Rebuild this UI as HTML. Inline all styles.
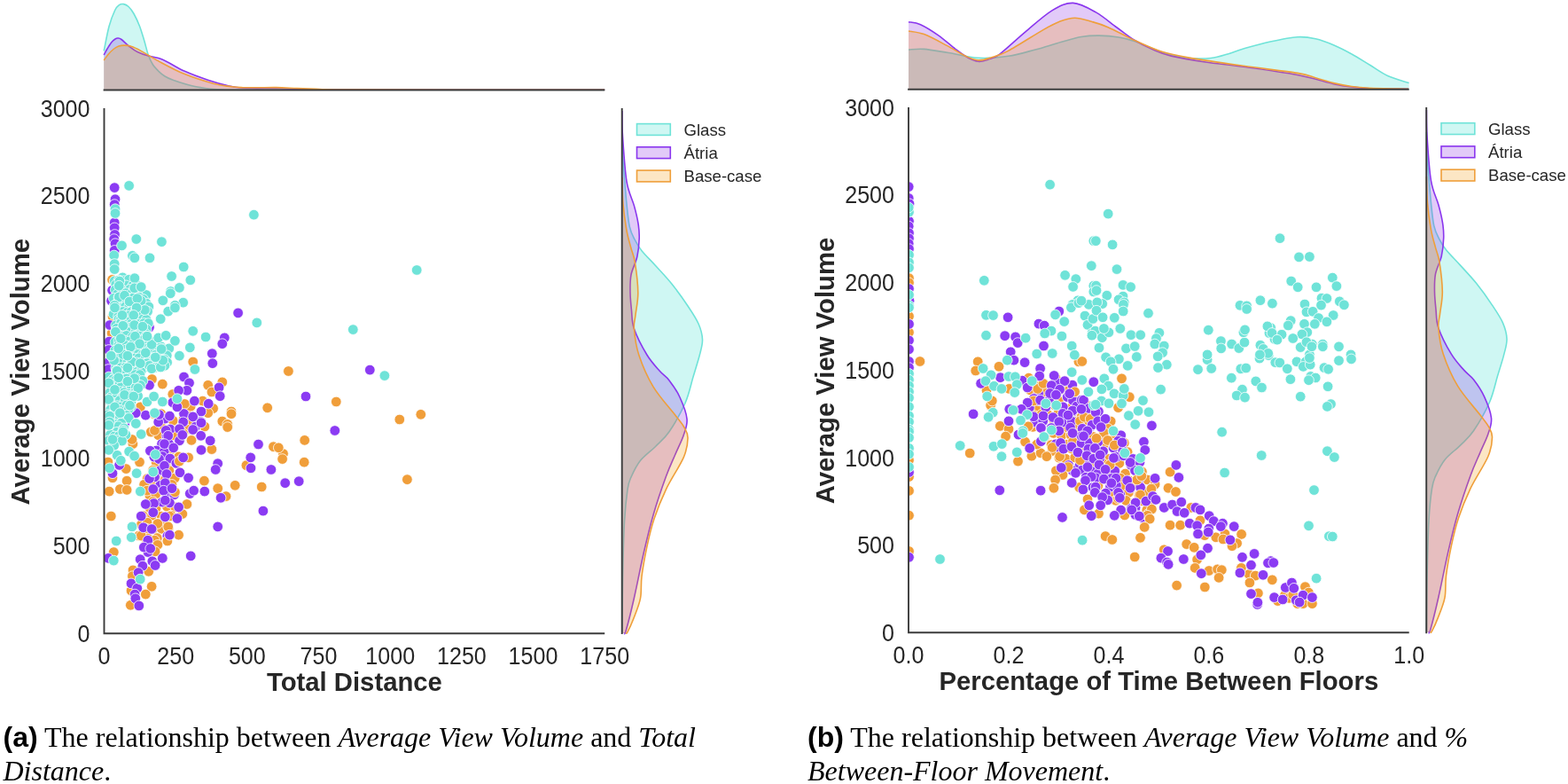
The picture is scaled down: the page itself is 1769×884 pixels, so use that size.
<!DOCTYPE html>
<html><head><meta charset="utf-8"><title>Figure</title>
<style>
html,body{margin:0;padding:0;background:#fff;}
body{width:1769px;height:884px;position:relative;overflow:hidden;}
svg{position:absolute;left:0;top:0;display:block;}
.cap{position:absolute;width:860px;font-family:"Liberation Serif","Times New Roman",serif;font-size:32.0px;line-height:38.0px;color:#000;}
.cap i{font-style:italic;}
.bs{font-family:"Liberation Sans",Arial,sans-serif;font-weight:bold;font-size:32.0px;}
</style></head>
<body>
<svg width="1769" height="884" viewBox="0 0 1769 884">
<defs>
<clipPath id="cl"><rect x="117.5" y="112.0" width="574.7" height="602.2"/></clipPath>
<clipPath id="cr"><rect x="1025.0" y="112.0" width="574.7" height="602.2"/></clipPath>
</defs>
<style>
.tk{font-family:"Liberation Sans",Arial,sans-serif;font-size:25.1px;fill:#262626;}
.lb{font-family:"Liberation Sans",Arial,sans-serif;font-size:29.3px;font-weight:bold;fill:#262626;}
.lg{font-family:"Liberation Sans",Arial,sans-serif;font-size:18.6px;fill:#262626;}
</style>
<rect width="1769" height="884" fill="#fff"/>
<path d="M117.2,57.4 C118.2,52.8 121.0,37.1 123.1,29.5 C125.2,21.9 127.8,15.5 129.7,11.5 C131.6,7.5 132.9,6.8 134.5,5.6 C136.1,4.4 137.8,4.3 139.5,4.6 C141.2,4.9 143.1,5.7 145.0,7.5 C146.9,9.3 148.9,11.8 151.0,15.5 C153.1,19.2 155.6,24.6 157.5,29.5 C159.4,34.4 160.8,39.5 162.5,45.0 C164.2,50.5 165.7,57.6 167.4,62.3 C169.1,67.0 170.6,70.0 172.5,73.0 C174.4,76.0 176.7,78.1 178.9,80.3 C181.2,82.5 183.3,84.3 186.0,86.0 C188.7,87.7 190.1,88.4 195.2,90.2 C200.3,92.0 209.5,95.0 216.6,96.7 C223.7,98.4 231.5,99.5 237.9,100.3 C244.3,101.0 244.7,101.0 255.0,101.2 C265.4,101.4 228.8,101.3 300.0,101.3 C371.2,101.3 618.5,101.3 682.2,101.3 L682.2,101.5 L117.2,101.5 Z" fill="#40e0d0" fill-opacity="0.25" stroke="none"/><path d="M117.2,57.4 C118.2,52.8 121.0,37.1 123.1,29.5 C125.2,21.9 127.8,15.5 129.7,11.5 C131.6,7.5 132.9,6.8 134.5,5.6 C136.1,4.4 137.8,4.3 139.5,4.6 C141.2,4.9 143.1,5.7 145.0,7.5 C146.9,9.3 148.9,11.8 151.0,15.5 C153.1,19.2 155.6,24.6 157.5,29.5 C159.4,34.4 160.8,39.5 162.5,45.0 C164.2,50.5 165.7,57.6 167.4,62.3 C169.1,67.0 170.6,70.0 172.5,73.0 C174.4,76.0 176.7,78.1 178.9,80.3 C181.2,82.5 183.3,84.3 186.0,86.0 C188.7,87.7 190.1,88.4 195.2,90.2 C200.3,92.0 209.5,95.0 216.6,96.7 C223.7,98.4 231.5,99.5 237.9,100.3 C244.3,101.0 244.7,101.0 255.0,101.2 C265.4,101.4 228.8,101.3 300.0,101.3 C371.2,101.3 618.5,101.3 682.2,101.3" fill="none" stroke="#6fe3d8" stroke-width="1.6"/>
<path d="M117.2,62.0 C117.8,60.8 119.5,57.4 121.0,55.0 C122.5,52.6 124.5,49.3 126.0,47.5 C127.5,45.7 128.8,44.8 130.0,44.0 C131.2,43.2 131.8,42.9 133.0,43.0 C134.2,43.1 134.8,42.9 137.0,44.5 C139.2,46.1 143.0,50.2 146.0,52.5 C149.0,54.8 151.4,56.7 155.0,58.5 C158.6,60.3 163.4,61.9 167.4,63.1 C171.4,64.3 175.1,64.4 178.9,65.6 C182.7,66.8 185.1,68.0 190.0,70.5 C194.9,73.0 201.0,77.0 208.4,80.3 C215.8,83.6 226.4,87.5 234.6,90.2 C242.8,92.9 250.9,95.2 257.5,96.7 C264.1,98.2 268.6,98.7 274.0,99.2 C279.4,99.7 283.2,99.5 290.0,99.6 C296.8,99.6 306.7,99.4 315.0,99.5 C323.3,99.6 329.2,100.0 340.0,100.3 C350.8,100.6 323.0,100.9 380.0,101.1 C437.0,101.3 631.8,101.3 682.2,101.3 L682.2,101.5 L117.2,101.5 Z" fill="#8a2be2" fill-opacity="0.25" stroke="none"/><path d="M117.2,62.0 C117.8,60.8 119.5,57.4 121.0,55.0 C122.5,52.6 124.5,49.3 126.0,47.5 C127.5,45.7 128.8,44.8 130.0,44.0 C131.2,43.2 131.8,42.9 133.0,43.0 C134.2,43.1 134.8,42.9 137.0,44.5 C139.2,46.1 143.0,50.2 146.0,52.5 C149.0,54.8 151.4,56.7 155.0,58.5 C158.6,60.3 163.4,61.9 167.4,63.1 C171.4,64.3 175.1,64.4 178.9,65.6 C182.7,66.8 185.1,68.0 190.0,70.5 C194.9,73.0 201.0,77.0 208.4,80.3 C215.8,83.6 226.4,87.5 234.6,90.2 C242.8,92.9 250.9,95.2 257.5,96.7 C264.1,98.2 268.6,98.7 274.0,99.2 C279.4,99.7 283.2,99.5 290.0,99.6 C296.8,99.6 306.7,99.4 315.0,99.5 C323.3,99.6 329.2,100.0 340.0,100.3 C350.8,100.6 323.0,100.9 380.0,101.1 C437.0,101.3 631.8,101.3 682.2,101.3" fill="none" stroke="#8a36ee" stroke-width="1.6"/>
<path d="M117.2,68.0 C118.0,66.9 120.2,63.6 122.0,61.5 C123.8,59.4 126.0,57.1 128.0,55.5 C130.0,53.9 131.9,52.7 134.0,52.0 C136.1,51.3 138.0,51.1 140.3,51.1 C142.6,51.1 144.9,51.2 148.0,52.3 C151.1,53.3 153.8,54.6 159.0,57.4 C164.2,60.2 170.7,64.5 178.9,68.9 C187.1,73.3 198.1,79.4 208.4,83.6 C218.8,87.8 232.1,91.9 241.0,94.3 C249.9,96.7 256.5,97.1 262.0,97.8 C267.5,98.5 269.3,98.5 274.0,98.7 C278.7,98.9 283.7,98.8 290.0,98.8 C296.3,98.8 304.1,98.5 311.6,98.6 C319.1,98.7 327.6,99.3 335.0,99.6 C342.4,99.9 345.2,100.0 356.0,100.3 C366.8,100.5 345.6,100.9 400.0,101.1 C454.4,101.3 635.2,101.3 682.2,101.3 L682.2,101.5 L117.2,101.5 Z" fill="#f39c12" fill-opacity="0.25" stroke="none"/><path d="M117.2,68.0 C118.0,66.9 120.2,63.6 122.0,61.5 C123.8,59.4 126.0,57.1 128.0,55.5 C130.0,53.9 131.9,52.7 134.0,52.0 C136.1,51.3 138.0,51.1 140.3,51.1 C142.6,51.1 144.9,51.2 148.0,52.3 C151.1,53.3 153.8,54.6 159.0,57.4 C164.2,60.2 170.7,64.5 178.9,68.9 C187.1,73.3 198.1,79.4 208.4,83.6 C218.8,87.8 232.1,91.9 241.0,94.3 C249.9,96.7 256.5,97.1 262.0,97.8 C267.5,98.5 269.3,98.5 274.0,98.7 C278.7,98.9 283.7,98.8 290.0,98.8 C296.3,98.8 304.1,98.5 311.6,98.6 C319.1,98.7 327.6,99.3 335.0,99.6 C342.4,99.9 345.2,100.0 356.0,100.3 C366.8,100.5 345.6,100.9 400.0,101.1 C454.4,101.3 635.2,101.3 682.2,101.3" fill="none" stroke="#ef9f3a" stroke-width="1.6"/>
<line x1="116.6" y1="101.5" x2="682.2" y2="101.5" stroke="#3b3b3b" stroke-width="1.9"/>
<path d="M701.9,150.0 C702.0,154.2 702.1,166.7 702.5,175.0 C702.9,183.3 703.8,190.8 704.5,200.0 C705.2,209.2 706.0,220.7 707.0,230.0 C708.0,239.3 708.8,248.9 710.3,255.6 C711.8,262.3 713.7,265.5 716.0,270.0 C718.3,274.5 720.0,277.7 724.0,282.7 C728.0,287.7 734.4,293.8 740.0,300.0 C745.6,306.2 751.8,312.5 757.8,320.0 C763.8,327.5 771.0,337.5 776.0,345.0 C781.0,352.5 785.2,358.7 788.0,365.0 C790.8,371.3 792.3,377.2 792.5,383.0 C792.7,388.8 791.1,393.0 789.4,400.0 C787.6,407.0 784.7,416.0 782.0,425.0 C779.3,434.0 777.6,443.9 773.1,454.2 C768.6,464.5 760.5,478.6 755.0,486.7 C749.5,494.8 745.4,497.6 740.0,503.0 C734.6,508.4 727.2,513.5 722.5,519.3 C717.8,525.1 714.4,532.6 712.0,538.0 C709.6,543.4 709.2,543.5 708.0,551.8 C706.8,560.1 705.4,571.6 704.5,588.0 C703.6,604.4 703.0,629.0 702.6,650.0 C702.2,671.0 702.1,703.3 702.0,714.0 L701.7,714.0 L701.7,150.0 Z" fill="#40e0d0" fill-opacity="0.25" stroke="none"/><path d="M701.9,150.0 C702.0,154.2 702.1,166.7 702.5,175.0 C702.9,183.3 703.8,190.8 704.5,200.0 C705.2,209.2 706.0,220.7 707.0,230.0 C708.0,239.3 708.8,248.9 710.3,255.6 C711.8,262.3 713.7,265.5 716.0,270.0 C718.3,274.5 720.0,277.7 724.0,282.7 C728.0,287.7 734.4,293.8 740.0,300.0 C745.6,306.2 751.8,312.5 757.8,320.0 C763.8,327.5 771.0,337.5 776.0,345.0 C781.0,352.5 785.2,358.7 788.0,365.0 C790.8,371.3 792.3,377.2 792.5,383.0 C792.7,388.8 791.1,393.0 789.4,400.0 C787.6,407.0 784.7,416.0 782.0,425.0 C779.3,434.0 777.6,443.9 773.1,454.2 C768.6,464.5 760.5,478.6 755.0,486.7 C749.5,494.8 745.4,497.6 740.0,503.0 C734.6,508.4 727.2,513.5 722.5,519.3 C717.8,525.1 714.4,532.6 712.0,538.0 C709.6,543.4 709.2,543.5 708.0,551.8 C706.8,560.1 705.4,571.6 704.5,588.0 C703.6,604.4 703.0,629.0 702.6,650.0 C702.2,671.0 702.1,703.3 702.0,714.0" fill="none" stroke="#6fe3d8" stroke-width="1.6"/>
<path d="M701.9,125.0 C702.0,129.8 701.6,140.6 702.5,153.9 C703.4,167.2 704.9,191.7 707.0,204.7 C709.1,217.7 713.2,224.0 715.4,231.9 C717.6,239.8 719.0,245.8 720.0,252.0 C721.0,258.2 721.4,262.8 721.2,269.0 C721.0,275.2 720.3,282.7 718.8,289.5 C717.3,296.3 713.3,303.1 712.0,309.8 C710.7,316.6 710.9,323.3 711.0,330.0 C711.1,336.7 711.8,343.2 712.5,350.0 C713.2,356.8 712.5,362.5 715.4,370.8 C718.3,379.1 725.0,392.1 729.8,400.0 C734.6,407.9 740.0,413.5 744.2,418.3 C748.4,423.1 751.2,423.9 755.0,428.9 C758.8,433.8 763.7,440.8 767.0,448.0 C770.3,455.2 774.3,465.2 775.0,472.3 C775.7,479.4 773.5,483.8 771.3,490.4 C769.1,497.0 765.3,504.2 762.0,512.0 C758.7,519.8 755.6,525.8 751.4,537.3 C747.2,548.8 741.2,566.2 737.0,580.7 C732.8,595.2 729.7,608.3 726.1,624.0 C722.5,639.7 718.6,660.2 715.3,674.7 C712.0,689.2 708.2,704.2 706.3,710.8 C704.4,717.3 704.4,713.5 704.0,714.0 L701.7,714.0 L701.7,125.0 Z" fill="#8a2be2" fill-opacity="0.25" stroke="none"/><path d="M701.9,125.0 C702.0,129.8 701.6,140.6 702.5,153.9 C703.4,167.2 704.9,191.7 707.0,204.7 C709.1,217.7 713.2,224.0 715.4,231.9 C717.6,239.8 719.0,245.8 720.0,252.0 C721.0,258.2 721.4,262.8 721.2,269.0 C721.0,275.2 720.3,282.7 718.8,289.5 C717.3,296.3 713.3,303.1 712.0,309.8 C710.7,316.6 710.9,323.3 711.0,330.0 C711.1,336.7 711.8,343.2 712.5,350.0 C713.2,356.8 712.5,362.5 715.4,370.8 C718.3,379.1 725.0,392.1 729.8,400.0 C734.6,407.9 740.0,413.5 744.2,418.3 C748.4,423.1 751.2,423.9 755.0,428.9 C758.8,433.8 763.7,440.8 767.0,448.0 C770.3,455.2 774.3,465.2 775.0,472.3 C775.7,479.4 773.5,483.8 771.3,490.4 C769.1,497.0 765.3,504.2 762.0,512.0 C758.7,519.8 755.6,525.8 751.4,537.3 C747.2,548.8 741.2,566.2 737.0,580.7 C732.8,595.2 729.7,608.3 726.1,624.0 C722.5,639.7 718.6,660.2 715.3,674.7 C712.0,689.2 708.2,704.2 706.3,710.8 C704.4,717.3 704.4,713.5 704.0,714.0" fill="none" stroke="#8a36ee" stroke-width="1.6"/>
<path d="M701.9,200.0 C702.1,205.0 702.1,220.0 703.0,230.0 C703.9,240.0 705.5,251.7 707.0,260.0 C708.5,268.3 710.4,274.0 712.0,280.0 C713.6,286.0 715.1,287.7 716.4,296.0 C717.7,304.3 719.7,320.2 719.8,330.0 C719.9,339.8 717.7,348.2 717.0,355.0 C716.3,361.8 714.8,363.3 715.4,370.8 C716.0,378.3 717.1,389.1 720.7,400.0 C724.3,410.9 730.1,424.7 737.0,436.1 C743.9,447.6 756.5,461.1 762.3,468.7 C768.1,476.3 769.7,477.8 772.0,482.0 C774.3,486.2 776.1,488.4 776.0,494.0 C775.9,499.6 775.4,506.0 771.3,515.6 C767.2,525.2 756.9,540.2 751.4,551.8 C745.9,563.4 741.6,574.2 738.0,585.0 C734.4,595.8 732.1,606.0 729.8,616.8 C727.5,627.6 725.2,640.4 724.0,650.0 C722.8,659.6 724.0,666.9 722.5,674.7 C721.0,682.5 717.4,690.7 715.0,697.0 C712.6,703.3 709.5,709.8 708.0,712.6 C706.5,715.4 706.3,713.8 706.0,714.0 L701.7,714.0 L701.7,200.0 Z" fill="#f39c12" fill-opacity="0.25" stroke="none"/><path d="M701.9,200.0 C702.1,205.0 702.1,220.0 703.0,230.0 C703.9,240.0 705.5,251.7 707.0,260.0 C708.5,268.3 710.4,274.0 712.0,280.0 C713.6,286.0 715.1,287.7 716.4,296.0 C717.7,304.3 719.7,320.2 719.8,330.0 C719.9,339.8 717.7,348.2 717.0,355.0 C716.3,361.8 714.8,363.3 715.4,370.8 C716.0,378.3 717.1,389.1 720.7,400.0 C724.3,410.9 730.1,424.7 737.0,436.1 C743.9,447.6 756.5,461.1 762.3,468.7 C768.1,476.3 769.7,477.8 772.0,482.0 C774.3,486.2 776.1,488.4 776.0,494.0 C775.9,499.6 775.4,506.0 771.3,515.6 C767.2,525.2 756.9,540.2 751.4,551.8 C745.9,563.4 741.6,574.2 738.0,585.0 C734.4,595.8 732.1,606.0 729.8,616.8 C727.5,627.6 725.2,640.4 724.0,650.0 C722.8,659.6 724.0,666.9 722.5,674.7 C721.0,682.5 717.4,690.7 715.0,697.0 C712.6,703.3 709.5,709.8 708.0,712.6 C706.5,715.4 706.3,713.8 706.0,714.0" fill="none" stroke="#ef9f3a" stroke-width="1.6"/>
<line x1="701.7" y1="122.0" x2="701.7" y2="715.1" stroke="#3b3b3b" stroke-width="1.9"/>
<g clip-path="url(#cl)" stroke="#fff" stroke-width="0.8">
<circle cx="174.5" cy="467.0" r="5.85" fill="#f09e3a"/>
<circle cx="181.7" cy="466.5" r="5.85" fill="#f09e3a"/>
<circle cx="212.0" cy="468.2" r="5.85" fill="#f09e3a"/>
<circle cx="179.5" cy="474.3" r="5.85" fill="#f09e3a"/>
<circle cx="195.2" cy="474.3" r="5.85" fill="#f09e3a"/>
<circle cx="207.0" cy="472.8" r="5.85" fill="#f09e3a"/>
<circle cx="217.1" cy="475.3" r="5.85" fill="#f09e3a"/>
<circle cx="182.6" cy="482.4" r="5.85" fill="#f09e3a"/>
<circle cx="203.2" cy="484.2" r="5.85" fill="#f09e3a"/>
<circle cx="211.3" cy="484.3" r="5.85" fill="#f09e3a"/>
<circle cx="230.9" cy="481.0" r="5.85" fill="#f09e3a"/>
<circle cx="178.7" cy="490.7" r="5.85" fill="#f09e3a"/>
<circle cx="195.5" cy="490.7" r="5.85" fill="#f09e3a"/>
<circle cx="206.8" cy="488.8" r="5.85" fill="#f09e3a"/>
<circle cx="194.7" cy="506.4" r="5.85" fill="#f09e3a"/>
<circle cx="201.9" cy="514.9" r="5.85" fill="#f09e3a"/>
<circle cx="176.3" cy="521.8" r="5.85" fill="#f09e3a"/>
<circle cx="187.3" cy="525.7" r="5.85" fill="#f09e3a"/>
<circle cx="172.6" cy="530.1" r="5.85" fill="#f09e3a"/>
<circle cx="190.8" cy="530.6" r="5.85" fill="#f09e3a"/>
<circle cx="166.3" cy="539.7" r="5.85" fill="#f09e3a"/>
<circle cx="176.3" cy="538.3" r="5.85" fill="#f09e3a"/>
<circle cx="186.7" cy="540.1" r="5.85" fill="#f09e3a"/>
<circle cx="197.2" cy="539.1" r="5.85" fill="#f09e3a"/>
<circle cx="172.9" cy="547.0" r="5.85" fill="#f09e3a"/>
<circle cx="193.9" cy="546.4" r="5.85" fill="#f09e3a"/>
<circle cx="168.9" cy="558.5" r="5.85" fill="#f09e3a"/>
<circle cx="175.7" cy="557.2" r="5.85" fill="#f09e3a"/>
<circle cx="172.7" cy="565.5" r="5.85" fill="#f09e3a"/>
<circle cx="169.0" cy="572.7" r="5.85" fill="#f09e3a"/>
<circle cx="176.0" cy="573.1" r="5.85" fill="#f09e3a"/>
<circle cx="188.4" cy="571.2" r="5.85" fill="#f09e3a"/>
<circle cx="197.7" cy="571.9" r="5.85" fill="#f09e3a"/>
<circle cx="161.4" cy="581.6" r="5.85" fill="#f09e3a"/>
<circle cx="171.6" cy="581.2" r="5.85" fill="#f09e3a"/>
<circle cx="182.1" cy="582.1" r="5.85" fill="#f09e3a"/>
<circle cx="192.9" cy="581.1" r="5.85" fill="#f09e3a"/>
<circle cx="159.5" cy="591.5" r="5.85" fill="#f09e3a"/>
<circle cx="166.1" cy="589.2" r="5.85" fill="#f09e3a"/>
<circle cx="179.4" cy="590.1" r="5.85" fill="#f09e3a"/>
<circle cx="185.1" cy="591.4" r="5.85" fill="#f09e3a"/>
<circle cx="164.8" cy="596.0" r="5.85" fill="#f09e3a"/>
<circle cx="172.7" cy="596.5" r="5.85" fill="#f09e3a"/>
<circle cx="182.4" cy="596.3" r="5.85" fill="#f09e3a"/>
<circle cx="190.1" cy="595.4" r="5.85" fill="#f09e3a"/>
<circle cx="156.7" cy="604.0" r="5.85" fill="#f09e3a"/>
<circle cx="166.8" cy="607.0" r="5.85" fill="#f09e3a"/>
<circle cx="177.3" cy="606.6" r="5.85" fill="#f09e3a"/>
<circle cx="165.1" cy="613.2" r="5.85" fill="#f09e3a"/>
<circle cx="172.9" cy="614.3" r="5.85" fill="#f09e3a"/>
<circle cx="186.1" cy="472.1" r="5.85" fill="#8b3bf3"/>
<circle cx="226.4" cy="475.5" r="5.85" fill="#8b3bf3"/>
<circle cx="192.0" cy="483.9" r="5.85" fill="#8b3bf3"/>
<circle cx="220.4" cy="481.2" r="5.85" fill="#8b3bf3"/>
<circle cx="187.9" cy="491.1" r="5.85" fill="#8b3bf3"/>
<circle cx="182.6" cy="500.5" r="5.85" fill="#8b3bf3"/>
<circle cx="190.7" cy="500.6" r="5.85" fill="#8b3bf3"/>
<circle cx="202.5" cy="496.8" r="5.85" fill="#8b3bf3"/>
<circle cx="176.4" cy="508.0" r="5.85" fill="#8b3bf3"/>
<circle cx="185.2" cy="509.3" r="5.85" fill="#8b3bf3"/>
<circle cx="173.9" cy="515.2" r="5.85" fill="#8b3bf3"/>
<circle cx="183.2" cy="514.6" r="5.85" fill="#8b3bf3"/>
<circle cx="191.8" cy="517.0" r="5.85" fill="#8b3bf3"/>
<circle cx="198.9" cy="522.4" r="5.85" fill="#8b3bf3"/>
<circle cx="181.4" cy="530.1" r="5.85" fill="#8b3bf3"/>
<circle cx="180.6" cy="547.3" r="5.85" fill="#8b3bf3"/>
<circle cx="188.2" cy="556.5" r="5.85" fill="#8b3bf3"/>
<circle cx="196.6" cy="557.8" r="5.85" fill="#8b3bf3"/>
<circle cx="182.9" cy="566.1" r="5.85" fill="#8b3bf3"/>
<circle cx="191.4" cy="566.9" r="5.85" fill="#8b3bf3"/>
<circle cx="188.9" cy="604.3" r="5.85" fill="#8b3bf3"/>
<circle cx="126.6" cy="315.4" r="5.85" fill="#f09e3a"/>
<circle cx="217.7" cy="408.0" r="5.85" fill="#f09e3a"/>
<circle cx="325.4" cy="418.5" r="5.85" fill="#f09e3a"/>
<circle cx="171.4" cy="427.5" r="5.85" fill="#f09e3a"/>
<circle cx="183.3" cy="433.1" r="5.85" fill="#f09e3a"/>
<circle cx="234.7" cy="434.3" r="5.85" fill="#f09e3a"/>
<circle cx="250.8" cy="430.9" r="5.85" fill="#f09e3a"/>
<circle cx="238.9" cy="442.0" r="5.85" fill="#f09e3a"/>
<circle cx="194.8" cy="444.5" r="5.85" fill="#f09e3a"/>
<circle cx="228.7" cy="452.1" r="5.85" fill="#f09e3a"/>
<circle cx="215.2" cy="458.1" r="5.85" fill="#f09e3a"/>
<circle cx="208.4" cy="455.5" r="5.85" fill="#f09e3a"/>
<circle cx="240.6" cy="460.6" r="5.85" fill="#f09e3a"/>
<circle cx="234.7" cy="465.7" r="5.85" fill="#f09e3a"/>
<circle cx="261.0" cy="464.0" r="5.85" fill="#f09e3a"/>
<circle cx="301.7" cy="459.8" r="5.85" fill="#f09e3a"/>
<circle cx="250.8" cy="475.0" r="5.85" fill="#f09e3a"/>
<circle cx="256.7" cy="478.4" r="5.85" fill="#f09e3a"/>
<circle cx="158.3" cy="458.9" r="5.85" fill="#f09e3a"/>
<circle cx="127.0" cy="357.1" r="5.85" fill="#f09e3a"/>
<circle cx="126.1" cy="375.8" r="5.85" fill="#f09e3a"/>
<circle cx="128.7" cy="399.5" r="5.85" fill="#f09e3a"/>
<circle cx="261.0" cy="466.7" r="5.85" fill="#f09e3a"/>
<circle cx="256.7" cy="481.6" r="5.85" fill="#f09e3a"/>
<circle cx="170.2" cy="487.1" r="5.85" fill="#f09e3a"/>
<circle cx="174.5" cy="485.4" r="5.85" fill="#f09e3a"/>
<circle cx="216.0" cy="496.4" r="5.85" fill="#f09e3a"/>
<circle cx="149.9" cy="500.6" r="5.85" fill="#f09e3a"/>
<circle cx="149.0" cy="495.5" r="5.85" fill="#f09e3a"/>
<circle cx="238.9" cy="506.6" r="5.85" fill="#f09e3a"/>
<circle cx="308.5" cy="503.7" r="5.85" fill="#f09e3a"/>
<circle cx="319.5" cy="511.6" r="5.85" fill="#f09e3a"/>
<circle cx="318.6" cy="517.6" r="5.85" fill="#f09e3a"/>
<circle cx="277.9" cy="524.7" r="5.85" fill="#f09e3a"/>
<circle cx="157.5" cy="521.0" r="5.85" fill="#f09e3a"/>
<circle cx="212.6" cy="515.9" r="5.85" fill="#f09e3a"/>
<circle cx="202.4" cy="520.1" r="5.85" fill="#f09e3a"/>
<circle cx="142.2" cy="528.6" r="5.85" fill="#f09e3a"/>
<circle cx="127.0" cy="538.8" r="5.85" fill="#f09e3a"/>
<circle cx="143.1" cy="542.2" r="5.85" fill="#f09e3a"/>
<circle cx="135.4" cy="551.5" r="5.85" fill="#f09e3a"/>
<circle cx="143.1" cy="552.4" r="5.85" fill="#f09e3a"/>
<circle cx="123.2" cy="554.1" r="5.85" fill="#f09e3a"/>
<circle cx="162.6" cy="546.4" r="5.85" fill="#f09e3a"/>
<circle cx="166.0" cy="553.2" r="5.85" fill="#f09e3a"/>
<circle cx="197.4" cy="554.9" r="5.85" fill="#f09e3a"/>
<circle cx="230.4" cy="542.2" r="5.85" fill="#f09e3a"/>
<circle cx="245.7" cy="550.7" r="5.85" fill="#f09e3a"/>
<circle cx="265.2" cy="547.3" r="5.85" fill="#f09e3a"/>
<circle cx="295.2" cy="549.0" r="5.85" fill="#f09e3a"/>
<circle cx="255.0" cy="559.6" r="5.85" fill="#f09e3a"/>
<circle cx="210.9" cy="568.5" r="5.85" fill="#f09e3a"/>
<circle cx="205.8" cy="579.5" r="5.85" fill="#f09e3a"/>
<circle cx="125.3" cy="582.0" r="5.85" fill="#f09e3a"/>
<circle cx="191.4" cy="582.0" r="5.85" fill="#f09e3a"/>
<circle cx="189.7" cy="593.9" r="5.85" fill="#f09e3a"/>
<circle cx="201.6" cy="603.2" r="5.85" fill="#f09e3a"/>
<circle cx="177.8" cy="590.5" r="5.85" fill="#f09e3a"/>
<circle cx="159.2" cy="604.1" r="5.85" fill="#f09e3a"/>
<circle cx="174.5" cy="609.2" r="5.85" fill="#f09e3a"/>
<circle cx="188.9" cy="610.0" r="5.85" fill="#f09e3a"/>
<circle cx="121.9" cy="521.0" r="5.85" fill="#f09e3a"/>
<circle cx="128.3" cy="622.6" r="5.85" fill="#f09e3a"/>
<circle cx="177.9" cy="614.4" r="5.85" fill="#f09e3a"/>
<circle cx="175.1" cy="621.9" r="5.85" fill="#f09e3a"/>
<circle cx="150.0" cy="642.9" r="5.85" fill="#f09e3a"/>
<circle cx="167.7" cy="644.3" r="5.85" fill="#f09e3a"/>
<circle cx="149.4" cy="649.7" r="5.85" fill="#f09e3a"/>
<circle cx="171.1" cy="661.3" r="5.85" fill="#f09e3a"/>
<circle cx="164.3" cy="670.1" r="5.85" fill="#f09e3a"/>
<circle cx="148.0" cy="666.0" r="5.85" fill="#f09e3a"/>
<circle cx="147.3" cy="682.3" r="5.85" fill="#f09e3a"/>
<circle cx="379.3" cy="453.0" r="5.85" fill="#f09e3a"/>
<circle cx="450.8" cy="473.0" r="5.85" fill="#f09e3a"/>
<circle cx="474.8" cy="467.3" r="5.85" fill="#f09e3a"/>
<circle cx="343.7" cy="496.4" r="5.85" fill="#f09e3a"/>
<circle cx="314.3" cy="504.8" r="5.85" fill="#f09e3a"/>
<circle cx="343.2" cy="521.2" r="5.85" fill="#f09e3a"/>
<circle cx="459.4" cy="540.7" r="5.85" fill="#f09e3a"/>
<circle cx="129.2" cy="211.6" r="5.85" fill="#8b3bf3"/>
<circle cx="130.0" cy="224.7" r="5.85" fill="#8b3bf3"/>
<circle cx="129.2" cy="230.6" r="5.85" fill="#8b3bf3"/>
<circle cx="129.2" cy="251.0" r="5.85" fill="#8b3bf3"/>
<circle cx="129.2" cy="256.9" r="5.85" fill="#8b3bf3"/>
<circle cx="129.5" cy="264.5" r="5.85" fill="#8b3bf3"/>
<circle cx="128.7" cy="269.6" r="5.85" fill="#8b3bf3"/>
<circle cx="130.0" cy="274.7" r="5.85" fill="#8b3bf3"/>
<circle cx="129.2" cy="282.4" r="5.85" fill="#8b3bf3"/>
<circle cx="126.6" cy="327.3" r="5.85" fill="#8b3bf3"/>
<circle cx="125.6" cy="339.2" r="5.85" fill="#8b3bf3"/>
<circle cx="123.9" cy="366.5" r="5.85" fill="#8b3bf3"/>
<circle cx="168.5" cy="369.0" r="5.85" fill="#8b3bf3"/>
<circle cx="123.2" cy="385.1" r="5.85" fill="#8b3bf3"/>
<circle cx="122.7" cy="394.5" r="5.85" fill="#8b3bf3"/>
<circle cx="123.2" cy="408.0" r="5.85" fill="#8b3bf3"/>
<circle cx="122.2" cy="416.5" r="5.85" fill="#8b3bf3"/>
<circle cx="268.6" cy="352.9" r="5.85" fill="#8b3bf3"/>
<circle cx="253.3" cy="380.9" r="5.85" fill="#8b3bf3"/>
<circle cx="250.8" cy="387.7" r="5.85" fill="#8b3bf3"/>
<circle cx="239.3" cy="398.7" r="5.85" fill="#8b3bf3"/>
<circle cx="239.8" cy="409.7" r="5.85" fill="#8b3bf3"/>
<circle cx="207.5" cy="425.0" r="5.85" fill="#8b3bf3"/>
<circle cx="213.5" cy="431.8" r="5.85" fill="#8b3bf3"/>
<circle cx="168.5" cy="434.3" r="5.85" fill="#8b3bf3"/>
<circle cx="210.9" cy="440.3" r="5.85" fill="#8b3bf3"/>
<circle cx="201.6" cy="440.3" r="5.85" fill="#8b3bf3"/>
<circle cx="247.1" cy="436.9" r="5.85" fill="#8b3bf3"/>
<circle cx="248.2" cy="446.7" r="5.85" fill="#8b3bf3"/>
<circle cx="219.4" cy="452.1" r="5.85" fill="#8b3bf3"/>
<circle cx="235.2" cy="455.2" r="5.85" fill="#8b3bf3"/>
<circle cx="227.0" cy="464.0" r="5.85" fill="#8b3bf3"/>
<circle cx="207.5" cy="466.5" r="5.85" fill="#8b3bf3"/>
<circle cx="217.7" cy="469.9" r="5.85" fill="#8b3bf3"/>
<circle cx="194.8" cy="453.8" r="5.85" fill="#8b3bf3"/>
<circle cx="164.3" cy="468.2" r="5.85" fill="#8b3bf3"/>
<circle cx="153.3" cy="465.7" r="5.85" fill="#8b3bf3"/>
<circle cx="140.9" cy="476.7" r="5.85" fill="#8b3bf3"/>
<circle cx="178.7" cy="475.9" r="5.85" fill="#8b3bf3"/>
<circle cx="191.4" cy="469.1" r="5.85" fill="#8b3bf3"/>
<circle cx="227.0" cy="476.7" r="5.85" fill="#8b3bf3"/>
<circle cx="206.7" cy="475.9" r="5.85" fill="#8b3bf3"/>
<circle cx="199.9" cy="458.9" r="5.85" fill="#8b3bf3"/>
<circle cx="166.0" cy="408.0" r="5.85" fill="#8b3bf3"/>
<circle cx="187.2" cy="485.4" r="5.85" fill="#8b3bf3"/>
<circle cx="202.4" cy="483.7" r="5.85" fill="#8b3bf3"/>
<circle cx="205.8" cy="490.4" r="5.85" fill="#8b3bf3"/>
<circle cx="217.7" cy="484.5" r="5.85" fill="#8b3bf3"/>
<circle cx="226.7" cy="491.3" r="5.85" fill="#8b3bf3"/>
<circle cx="237.2" cy="496.9" r="5.85" fill="#8b3bf3"/>
<circle cx="227.0" cy="507.4" r="5.85" fill="#8b3bf3"/>
<circle cx="291.5" cy="501.0" r="5.85" fill="#8b3bf3"/>
<circle cx="189.7" cy="491.3" r="5.85" fill="#8b3bf3"/>
<circle cx="185.5" cy="500.6" r="5.85" fill="#8b3bf3"/>
<circle cx="195.7" cy="504.9" r="5.85" fill="#8b3bf3"/>
<circle cx="169.4" cy="508.3" r="5.85" fill="#8b3bf3"/>
<circle cx="179.5" cy="517.6" r="5.85" fill="#8b3bf3"/>
<circle cx="206.7" cy="515.9" r="5.85" fill="#8b3bf3"/>
<circle cx="185.5" cy="525.2" r="5.85" fill="#8b3bf3"/>
<circle cx="188.0" cy="534.5" r="5.85" fill="#8b3bf3"/>
<circle cx="203.0" cy="532.8" r="5.85" fill="#8b3bf3"/>
<circle cx="212.6" cy="538.8" r="5.85" fill="#8b3bf3"/>
<circle cx="174.5" cy="537.9" r="5.85" fill="#8b3bf3"/>
<circle cx="168.5" cy="539.6" r="5.85" fill="#8b3bf3"/>
<circle cx="186.3" cy="544.7" r="5.85" fill="#8b3bf3"/>
<circle cx="172.8" cy="551.5" r="5.85" fill="#8b3bf3"/>
<circle cx="184.6" cy="553.2" r="5.85" fill="#8b3bf3"/>
<circle cx="194.0" cy="550.7" r="5.85" fill="#8b3bf3"/>
<circle cx="214.3" cy="556.6" r="5.85" fill="#8b3bf3"/>
<circle cx="218.6" cy="553.2" r="5.85" fill="#8b3bf3"/>
<circle cx="230.8" cy="554.1" r="5.85" fill="#8b3bf3"/>
<circle cx="249.1" cy="561.3" r="5.85" fill="#8b3bf3"/>
<circle cx="245.7" cy="522.7" r="5.85" fill="#8b3bf3"/>
<circle cx="243.2" cy="529.5" r="5.85" fill="#8b3bf3"/>
<circle cx="282.7" cy="515.9" r="5.85" fill="#8b3bf3"/>
<circle cx="283.0" cy="527.8" r="5.85" fill="#8b3bf3"/>
<circle cx="305.9" cy="529.5" r="5.85" fill="#8b3bf3"/>
<circle cx="321.7" cy="544.7" r="5.85" fill="#8b3bf3"/>
<circle cx="296.9" cy="576.1" r="5.85" fill="#8b3bf3"/>
<circle cx="245.7" cy="593.9" r="5.85" fill="#8b3bf3"/>
<circle cx="201.6" cy="571.9" r="5.85" fill="#8b3bf3"/>
<circle cx="199.9" cy="584.6" r="5.85" fill="#8b3bf3"/>
<circle cx="186.3" cy="564.2" r="5.85" fill="#8b3bf3"/>
<circle cx="173.6" cy="567.6" r="5.85" fill="#8b3bf3"/>
<circle cx="164.3" cy="568.5" r="5.85" fill="#8b3bf3"/>
<circle cx="172.8" cy="577.8" r="5.85" fill="#8b3bf3"/>
<circle cx="186.3" cy="582.9" r="5.85" fill="#8b3bf3"/>
<circle cx="159.2" cy="582.0" r="5.85" fill="#8b3bf3"/>
<circle cx="161.7" cy="594.8" r="5.85" fill="#8b3bf3"/>
<circle cx="171.1" cy="596.5" r="5.85" fill="#8b3bf3"/>
<circle cx="191.4" cy="603.2" r="5.85" fill="#8b3bf3"/>
<circle cx="166.8" cy="609.2" r="5.85" fill="#8b3bf3"/>
<circle cx="138.8" cy="493.0" r="5.85" fill="#8b3bf3"/>
<circle cx="127.0" cy="533.7" r="5.85" fill="#8b3bf3"/>
<circle cx="134.6" cy="524.4" r="5.85" fill="#8b3bf3"/>
<circle cx="179.5" cy="467.5" r="5.85" fill="#8b3bf3"/>
<circle cx="122.2" cy="629.4" r="5.85" fill="#8b3bf3"/>
<circle cx="167.0" cy="622.6" r="5.85" fill="#8b3bf3"/>
<circle cx="158.2" cy="630.7" r="5.85" fill="#8b3bf3"/>
<circle cx="171.8" cy="632.8" r="5.85" fill="#8b3bf3"/>
<circle cx="183.3" cy="629.4" r="5.85" fill="#8b3bf3"/>
<circle cx="175.1" cy="637.5" r="5.85" fill="#8b3bf3"/>
<circle cx="160.9" cy="638.2" r="5.85" fill="#8b3bf3"/>
<circle cx="156.1" cy="645.6" r="5.85" fill="#8b3bf3"/>
<circle cx="148.0" cy="657.9" r="5.85" fill="#8b3bf3"/>
<circle cx="154.8" cy="663.3" r="5.85" fill="#8b3bf3"/>
<circle cx="152.1" cy="670.1" r="5.85" fill="#8b3bf3"/>
<circle cx="152.8" cy="674.8" r="5.85" fill="#8b3bf3"/>
<circle cx="156.8" cy="683.0" r="5.85" fill="#8b3bf3"/>
<circle cx="215.2" cy="626.9" r="5.85" fill="#8b3bf3"/>
<circle cx="162.3" cy="617.1" r="5.85" fill="#8b3bf3"/>
<circle cx="169.7" cy="618.5" r="5.85" fill="#8b3bf3"/>
<circle cx="417.3" cy="417.1" r="5.85" fill="#8b3bf3"/>
<circle cx="345.0" cy="447.0" r="5.85" fill="#8b3bf3"/>
<circle cx="377.8" cy="485.5" r="5.85" fill="#8b3bf3"/>
<circle cx="337.2" cy="542.7" r="5.85" fill="#8b3bf3"/>
<circle cx="138.3" cy="312.9" r="5.85" fill="#6fe3d8"/>
<circle cx="129.2" cy="316.8" r="5.85" fill="#6fe3d8"/>
<circle cx="134.1" cy="316.0" r="5.85" fill="#6fe3d8"/>
<circle cx="139.7" cy="316.7" r="5.85" fill="#6fe3d8"/>
<circle cx="145.5" cy="315.3" r="5.85" fill="#6fe3d8"/>
<circle cx="130.7" cy="320.9" r="5.85" fill="#6fe3d8"/>
<circle cx="138.8" cy="321.4" r="5.85" fill="#6fe3d8"/>
<circle cx="142.4" cy="321.9" r="5.85" fill="#6fe3d8"/>
<circle cx="149.6" cy="322.3" r="5.85" fill="#6fe3d8"/>
<circle cx="154.2" cy="321.5" r="5.85" fill="#6fe3d8"/>
<circle cx="130.3" cy="326.7" r="5.85" fill="#6fe3d8"/>
<circle cx="136.2" cy="325.7" r="5.85" fill="#6fe3d8"/>
<circle cx="140.6" cy="328.0" r="5.85" fill="#6fe3d8"/>
<circle cx="146.4" cy="326.4" r="5.85" fill="#6fe3d8"/>
<circle cx="151.1" cy="326.7" r="5.85" fill="#6fe3d8"/>
<circle cx="158.9" cy="325.0" r="5.85" fill="#6fe3d8"/>
<circle cx="132.3" cy="331.8" r="5.85" fill="#6fe3d8"/>
<circle cx="138.2" cy="331.3" r="5.85" fill="#6fe3d8"/>
<circle cx="141.9" cy="330.5" r="5.85" fill="#6fe3d8"/>
<circle cx="148.0" cy="331.7" r="5.85" fill="#6fe3d8"/>
<circle cx="155.8" cy="332.4" r="5.85" fill="#6fe3d8"/>
<circle cx="161.2" cy="332.4" r="5.85" fill="#6fe3d8"/>
<circle cx="165.0" cy="332.5" r="5.85" fill="#6fe3d8"/>
<circle cx="128.3" cy="336.3" r="5.85" fill="#6fe3d8"/>
<circle cx="133.9" cy="335.5" r="5.85" fill="#6fe3d8"/>
<circle cx="141.3" cy="336.1" r="5.85" fill="#6fe3d8"/>
<circle cx="145.6" cy="336.2" r="5.85" fill="#6fe3d8"/>
<circle cx="150.3" cy="335.9" r="5.85" fill="#6fe3d8"/>
<circle cx="157.1" cy="335.2" r="5.85" fill="#6fe3d8"/>
<circle cx="161.7" cy="337.5" r="5.85" fill="#6fe3d8"/>
<circle cx="133.2" cy="341.2" r="5.85" fill="#6fe3d8"/>
<circle cx="136.9" cy="341.6" r="5.85" fill="#6fe3d8"/>
<circle cx="143.1" cy="341.3" r="5.85" fill="#6fe3d8"/>
<circle cx="148.4" cy="341.5" r="5.85" fill="#6fe3d8"/>
<circle cx="153.2" cy="340.5" r="5.85" fill="#6fe3d8"/>
<circle cx="161.7" cy="342.3" r="5.85" fill="#6fe3d8"/>
<circle cx="165.2" cy="342.2" r="5.85" fill="#6fe3d8"/>
<circle cx="129.6" cy="344.9" r="5.85" fill="#6fe3d8"/>
<circle cx="136.2" cy="347.5" r="5.85" fill="#6fe3d8"/>
<circle cx="141.3" cy="346.0" r="5.85" fill="#6fe3d8"/>
<circle cx="145.8" cy="345.5" r="5.85" fill="#6fe3d8"/>
<circle cx="150.9" cy="346.5" r="5.85" fill="#6fe3d8"/>
<circle cx="157.2" cy="345.0" r="5.85" fill="#6fe3d8"/>
<circle cx="161.7" cy="346.5" r="5.85" fill="#6fe3d8"/>
<circle cx="167.9" cy="345.9" r="5.85" fill="#6fe3d8"/>
<circle cx="133.6" cy="350.3" r="5.85" fill="#6fe3d8"/>
<circle cx="139.0" cy="351.4" r="5.85" fill="#6fe3d8"/>
<circle cx="143.4" cy="352.4" r="5.85" fill="#6fe3d8"/>
<circle cx="148.2" cy="351.5" r="5.85" fill="#6fe3d8"/>
<circle cx="153.3" cy="349.7" r="5.85" fill="#6fe3d8"/>
<circle cx="161.5" cy="349.9" r="5.85" fill="#6fe3d8"/>
<circle cx="166.6" cy="351.1" r="5.85" fill="#6fe3d8"/>
<circle cx="128.1" cy="354.2" r="5.85" fill="#6fe3d8"/>
<circle cx="133.6" cy="356.8" r="5.85" fill="#6fe3d8"/>
<circle cx="141.5" cy="356.7" r="5.85" fill="#6fe3d8"/>
<circle cx="145.7" cy="356.0" r="5.85" fill="#6fe3d8"/>
<circle cx="152.7" cy="355.3" r="5.85" fill="#6fe3d8"/>
<circle cx="157.6" cy="354.8" r="5.85" fill="#6fe3d8"/>
<circle cx="161.7" cy="354.9" r="5.85" fill="#6fe3d8"/>
<circle cx="133.8" cy="360.2" r="5.85" fill="#6fe3d8"/>
<circle cx="136.6" cy="359.4" r="5.85" fill="#6fe3d8"/>
<circle cx="142.6" cy="361.3" r="5.85" fill="#6fe3d8"/>
<circle cx="147.7" cy="361.8" r="5.85" fill="#6fe3d8"/>
<circle cx="154.2" cy="362.0" r="5.85" fill="#6fe3d8"/>
<circle cx="161.5" cy="359.8" r="5.85" fill="#6fe3d8"/>
<circle cx="165.0" cy="360.4" r="5.85" fill="#6fe3d8"/>
<circle cx="130.7" cy="366.8" r="5.85" fill="#6fe3d8"/>
<circle cx="136.5" cy="364.1" r="5.85" fill="#6fe3d8"/>
<circle cx="139.7" cy="365.7" r="5.85" fill="#6fe3d8"/>
<circle cx="147.7" cy="365.5" r="5.85" fill="#6fe3d8"/>
<circle cx="152.4" cy="365.9" r="5.85" fill="#6fe3d8"/>
<circle cx="156.6" cy="365.5" r="5.85" fill="#6fe3d8"/>
<circle cx="162.4" cy="364.5" r="5.85" fill="#6fe3d8"/>
<circle cx="167.3" cy="364.6" r="5.85" fill="#6fe3d8"/>
<circle cx="131.7" cy="370.3" r="5.85" fill="#6fe3d8"/>
<circle cx="138.1" cy="370.5" r="5.85" fill="#6fe3d8"/>
<circle cx="142.6" cy="368.7" r="5.85" fill="#6fe3d8"/>
<circle cx="148.2" cy="368.8" r="5.85" fill="#6fe3d8"/>
<circle cx="154.8" cy="368.8" r="5.85" fill="#6fe3d8"/>
<circle cx="158.8" cy="370.6" r="5.85" fill="#6fe3d8"/>
<circle cx="165.1" cy="371.1" r="5.85" fill="#6fe3d8"/>
<circle cx="130.4" cy="374.5" r="5.85" fill="#6fe3d8"/>
<circle cx="133.7" cy="375.1" r="5.85" fill="#6fe3d8"/>
<circle cx="141.9" cy="374.4" r="5.85" fill="#6fe3d8"/>
<circle cx="147.5" cy="373.9" r="5.85" fill="#6fe3d8"/>
<circle cx="153.1" cy="373.5" r="5.85" fill="#6fe3d8"/>
<circle cx="156.8" cy="376.3" r="5.85" fill="#6fe3d8"/>
<circle cx="164.0" cy="376.3" r="5.85" fill="#6fe3d8"/>
<circle cx="133.3" cy="379.7" r="5.85" fill="#6fe3d8"/>
<circle cx="137.5" cy="379.4" r="5.85" fill="#6fe3d8"/>
<circle cx="142.6" cy="378.4" r="5.85" fill="#6fe3d8"/>
<circle cx="149.5" cy="379.6" r="5.85" fill="#6fe3d8"/>
<circle cx="154.8" cy="378.5" r="5.85" fill="#6fe3d8"/>
<circle cx="159.7" cy="378.7" r="5.85" fill="#6fe3d8"/>
<circle cx="164.6" cy="379.1" r="5.85" fill="#6fe3d8"/>
<circle cx="130.0" cy="385.5" r="5.85" fill="#6fe3d8"/>
<circle cx="134.2" cy="384.7" r="5.85" fill="#6fe3d8"/>
<circle cx="140.5" cy="383.9" r="5.85" fill="#6fe3d8"/>
<circle cx="145.9" cy="384.9" r="5.85" fill="#6fe3d8"/>
<circle cx="153.1" cy="386.1" r="5.85" fill="#6fe3d8"/>
<circle cx="156.7" cy="385.2" r="5.85" fill="#6fe3d8"/>
<circle cx="161.6" cy="383.4" r="5.85" fill="#6fe3d8"/>
<circle cx="168.6" cy="386.0" r="5.85" fill="#6fe3d8"/>
<circle cx="173.1" cy="385.6" r="5.85" fill="#6fe3d8"/>
<circle cx="133.7" cy="389.8" r="5.85" fill="#6fe3d8"/>
<circle cx="136.8" cy="388.8" r="5.85" fill="#6fe3d8"/>
<circle cx="142.5" cy="389.8" r="5.85" fill="#6fe3d8"/>
<circle cx="149.8" cy="388.2" r="5.85" fill="#6fe3d8"/>
<circle cx="155.2" cy="390.3" r="5.85" fill="#6fe3d8"/>
<circle cx="159.7" cy="389.6" r="5.85" fill="#6fe3d8"/>
<circle cx="164.7" cy="390.3" r="5.85" fill="#6fe3d8"/>
<circle cx="169.9" cy="391.1" r="5.85" fill="#6fe3d8"/>
<circle cx="178.0" cy="390.0" r="5.85" fill="#6fe3d8"/>
<circle cx="181.9" cy="390.9" r="5.85" fill="#6fe3d8"/>
<circle cx="129.9" cy="395.1" r="5.85" fill="#6fe3d8"/>
<circle cx="134.8" cy="395.8" r="5.85" fill="#6fe3d8"/>
<circle cx="142.1" cy="394.1" r="5.85" fill="#6fe3d8"/>
<circle cx="147.2" cy="394.2" r="5.85" fill="#6fe3d8"/>
<circle cx="150.7" cy="393.9" r="5.85" fill="#6fe3d8"/>
<circle cx="156.2" cy="395.8" r="5.85" fill="#6fe3d8"/>
<circle cx="164.5" cy="393.2" r="5.85" fill="#6fe3d8"/>
<circle cx="168.9" cy="394.1" r="5.85" fill="#6fe3d8"/>
<circle cx="173.0" cy="393.8" r="5.85" fill="#6fe3d8"/>
<circle cx="179.0" cy="395.2" r="5.85" fill="#6fe3d8"/>
<circle cx="183.8" cy="393.5" r="5.85" fill="#6fe3d8"/>
<circle cx="190.8" cy="392.9" r="5.85" fill="#6fe3d8"/>
<circle cx="131.5" cy="399.4" r="5.85" fill="#6fe3d8"/>
<circle cx="137.1" cy="399.6" r="5.85" fill="#6fe3d8"/>
<circle cx="142.6" cy="399.9" r="5.85" fill="#6fe3d8"/>
<circle cx="149.9" cy="400.3" r="5.85" fill="#6fe3d8"/>
<circle cx="156.1" cy="399.4" r="5.85" fill="#6fe3d8"/>
<circle cx="160.2" cy="400.4" r="5.85" fill="#6fe3d8"/>
<circle cx="166.7" cy="399.5" r="5.85" fill="#6fe3d8"/>
<circle cx="171.0" cy="398.6" r="5.85" fill="#6fe3d8"/>
<circle cx="175.7" cy="400.3" r="5.85" fill="#6fe3d8"/>
<circle cx="181.4" cy="400.1" r="5.85" fill="#6fe3d8"/>
<circle cx="188.3" cy="400.8" r="5.85" fill="#6fe3d8"/>
<circle cx="128.2" cy="404.1" r="5.85" fill="#6fe3d8"/>
<circle cx="135.2" cy="403.5" r="5.85" fill="#6fe3d8"/>
<circle cx="140.6" cy="403.7" r="5.85" fill="#6fe3d8"/>
<circle cx="146.3" cy="402.5" r="5.85" fill="#6fe3d8"/>
<circle cx="151.6" cy="404.0" r="5.85" fill="#6fe3d8"/>
<circle cx="156.8" cy="403.8" r="5.85" fill="#6fe3d8"/>
<circle cx="163.9" cy="404.7" r="5.85" fill="#6fe3d8"/>
<circle cx="168.6" cy="404.6" r="5.85" fill="#6fe3d8"/>
<circle cx="173.8" cy="403.2" r="5.85" fill="#6fe3d8"/>
<circle cx="178.2" cy="403.4" r="5.85" fill="#6fe3d8"/>
<circle cx="185.7" cy="405.4" r="5.85" fill="#6fe3d8"/>
<circle cx="133.0" cy="410.6" r="5.85" fill="#6fe3d8"/>
<circle cx="137.2" cy="407.9" r="5.85" fill="#6fe3d8"/>
<circle cx="143.8" cy="409.1" r="5.85" fill="#6fe3d8"/>
<circle cx="148.6" cy="407.4" r="5.85" fill="#6fe3d8"/>
<circle cx="154.2" cy="408.8" r="5.85" fill="#6fe3d8"/>
<circle cx="159.9" cy="410.1" r="5.85" fill="#6fe3d8"/>
<circle cx="166.1" cy="409.7" r="5.85" fill="#6fe3d8"/>
<circle cx="172.7" cy="409.8" r="5.85" fill="#6fe3d8"/>
<circle cx="177.0" cy="409.8" r="5.85" fill="#6fe3d8"/>
<circle cx="183.0" cy="409.5" r="5.85" fill="#6fe3d8"/>
<circle cx="188.6" cy="408.7" r="5.85" fill="#6fe3d8"/>
<circle cx="130.8" cy="414.7" r="5.85" fill="#6fe3d8"/>
<circle cx="136.1" cy="414.7" r="5.85" fill="#6fe3d8"/>
<circle cx="141.6" cy="414.2" r="5.85" fill="#6fe3d8"/>
<circle cx="145.7" cy="413.1" r="5.85" fill="#6fe3d8"/>
<circle cx="152.5" cy="415.0" r="5.85" fill="#6fe3d8"/>
<circle cx="157.5" cy="412.7" r="5.85" fill="#6fe3d8"/>
<circle cx="164.1" cy="413.8" r="5.85" fill="#6fe3d8"/>
<circle cx="168.5" cy="412.4" r="5.85" fill="#6fe3d8"/>
<circle cx="174.2" cy="414.6" r="5.85" fill="#6fe3d8"/>
<circle cx="179.6" cy="413.4" r="5.85" fill="#6fe3d8"/>
<circle cx="185.9" cy="412.3" r="5.85" fill="#6fe3d8"/>
<circle cx="131.3" cy="417.8" r="5.85" fill="#6fe3d8"/>
<circle cx="139.0" cy="418.0" r="5.85" fill="#6fe3d8"/>
<circle cx="142.0" cy="419.7" r="5.85" fill="#6fe3d8"/>
<circle cx="149.1" cy="418.3" r="5.85" fill="#6fe3d8"/>
<circle cx="154.6" cy="419.4" r="5.85" fill="#6fe3d8"/>
<circle cx="159.1" cy="419.2" r="5.85" fill="#6fe3d8"/>
<circle cx="122.9" cy="425.0" r="5.85" fill="#6fe3d8"/>
<circle cx="130.1" cy="424.6" r="5.85" fill="#6fe3d8"/>
<circle cx="133.5" cy="424.8" r="5.85" fill="#6fe3d8"/>
<circle cx="141.0" cy="423.0" r="5.85" fill="#6fe3d8"/>
<circle cx="146.0" cy="424.4" r="5.85" fill="#6fe3d8"/>
<circle cx="152.7" cy="422.5" r="5.85" fill="#6fe3d8"/>
<circle cx="157.8" cy="422.5" r="5.85" fill="#6fe3d8"/>
<circle cx="127.3" cy="427.8" r="5.85" fill="#6fe3d8"/>
<circle cx="130.9" cy="428.1" r="5.85" fill="#6fe3d8"/>
<circle cx="137.8" cy="427.1" r="5.85" fill="#6fe3d8"/>
<circle cx="142.4" cy="427.0" r="5.85" fill="#6fe3d8"/>
<circle cx="149.3" cy="429.6" r="5.85" fill="#6fe3d8"/>
<circle cx="153.7" cy="426.9" r="5.85" fill="#6fe3d8"/>
<circle cx="160.9" cy="429.4" r="5.85" fill="#6fe3d8"/>
<circle cx="122.7" cy="432.4" r="5.85" fill="#6fe3d8"/>
<circle cx="130.4" cy="433.1" r="5.85" fill="#6fe3d8"/>
<circle cx="135.3" cy="432.3" r="5.85" fill="#6fe3d8"/>
<circle cx="141.3" cy="432.7" r="5.85" fill="#6fe3d8"/>
<circle cx="146.5" cy="434.6" r="5.85" fill="#6fe3d8"/>
<circle cx="153.4" cy="431.8" r="5.85" fill="#6fe3d8"/>
<circle cx="158.4" cy="434.4" r="5.85" fill="#6fe3d8"/>
<circle cx="125.4" cy="438.0" r="5.85" fill="#6fe3d8"/>
<circle cx="133.3" cy="439.4" r="5.85" fill="#6fe3d8"/>
<circle cx="136.3" cy="436.7" r="5.85" fill="#6fe3d8"/>
<circle cx="144.5" cy="436.6" r="5.85" fill="#6fe3d8"/>
<circle cx="148.3" cy="436.9" r="5.85" fill="#6fe3d8"/>
<circle cx="153.3" cy="436.6" r="5.85" fill="#6fe3d8"/>
<circle cx="124.1" cy="442.5" r="5.85" fill="#6fe3d8"/>
<circle cx="129.7" cy="443.1" r="5.85" fill="#6fe3d8"/>
<circle cx="135.1" cy="441.5" r="5.85" fill="#6fe3d8"/>
<circle cx="140.1" cy="442.7" r="5.85" fill="#6fe3d8"/>
<circle cx="145.2" cy="444.2" r="5.85" fill="#6fe3d8"/>
<circle cx="151.6" cy="443.5" r="5.85" fill="#6fe3d8"/>
<circle cx="125.1" cy="447.9" r="5.85" fill="#6fe3d8"/>
<circle cx="132.0" cy="446.6" r="5.85" fill="#6fe3d8"/>
<circle cx="137.5" cy="448.5" r="5.85" fill="#6fe3d8"/>
<circle cx="144.6" cy="446.3" r="5.85" fill="#6fe3d8"/>
<circle cx="149.1" cy="446.5" r="5.85" fill="#6fe3d8"/>
<circle cx="155.6" cy="446.5" r="5.85" fill="#6fe3d8"/>
<circle cx="123.3" cy="452.1" r="5.85" fill="#6fe3d8"/>
<circle cx="130.3" cy="454.1" r="5.85" fill="#6fe3d8"/>
<circle cx="135.3" cy="451.4" r="5.85" fill="#6fe3d8"/>
<circle cx="141.1" cy="452.5" r="5.85" fill="#6fe3d8"/>
<circle cx="147.8" cy="453.3" r="5.85" fill="#6fe3d8"/>
<circle cx="126.0" cy="458.3" r="5.85" fill="#6fe3d8"/>
<circle cx="132.2" cy="457.6" r="5.85" fill="#6fe3d8"/>
<circle cx="136.7" cy="458.8" r="5.85" fill="#6fe3d8"/>
<circle cx="142.8" cy="456.9" r="5.85" fill="#6fe3d8"/>
<circle cx="147.6" cy="459.0" r="5.85" fill="#6fe3d8"/>
<circle cx="124.6" cy="461.9" r="5.85" fill="#6fe3d8"/>
<circle cx="130.8" cy="462.8" r="5.85" fill="#6fe3d8"/>
<circle cx="134.7" cy="462.2" r="5.85" fill="#6fe3d8"/>
<circle cx="142.1" cy="462.4" r="5.85" fill="#6fe3d8"/>
<circle cx="145.1" cy="461.2" r="5.85" fill="#6fe3d8"/>
<circle cx="122.1" cy="467.6" r="5.85" fill="#6fe3d8"/>
<circle cx="125.6" cy="468.3" r="5.85" fill="#6fe3d8"/>
<circle cx="130.7" cy="466.8" r="5.85" fill="#6fe3d8"/>
<circle cx="138.9" cy="467.9" r="5.85" fill="#6fe3d8"/>
<circle cx="142.7" cy="468.4" r="5.85" fill="#6fe3d8"/>
<circle cx="123.8" cy="471.7" r="5.85" fill="#6fe3d8"/>
<circle cx="130.6" cy="473.0" r="5.85" fill="#6fe3d8"/>
<circle cx="135.3" cy="470.6" r="5.85" fill="#6fe3d8"/>
<circle cx="141.7" cy="471.9" r="5.85" fill="#6fe3d8"/>
<circle cx="145.2" cy="471.4" r="5.85" fill="#6fe3d8"/>
<circle cx="126.6" cy="477.2" r="5.85" fill="#6fe3d8"/>
<circle cx="132.4" cy="478.4" r="5.85" fill="#6fe3d8"/>
<circle cx="136.7" cy="477.3" r="5.85" fill="#6fe3d8"/>
<circle cx="123.7" cy="480.5" r="5.85" fill="#6fe3d8"/>
<circle cx="128.9" cy="481.5" r="5.85" fill="#6fe3d8"/>
<circle cx="133.5" cy="480.7" r="5.85" fill="#6fe3d8"/>
<circle cx="139.8" cy="482.9" r="5.85" fill="#6fe3d8"/>
<circle cx="126.5" cy="488.0" r="5.85" fill="#6fe3d8"/>
<circle cx="131.9" cy="487.3" r="5.85" fill="#6fe3d8"/>
<circle cx="138.9" cy="485.3" r="5.85" fill="#6fe3d8"/>
<circle cx="124.4" cy="490.1" r="5.85" fill="#6fe3d8"/>
<circle cx="129.0" cy="492.0" r="5.85" fill="#6fe3d8"/>
<circle cx="134.3" cy="491.5" r="5.85" fill="#6fe3d8"/>
<circle cx="141.9" cy="490.2" r="5.85" fill="#6fe3d8"/>
<circle cx="122.6" cy="496.8" r="5.85" fill="#6fe3d8"/>
<circle cx="128.0" cy="497.8" r="5.85" fill="#6fe3d8"/>
<circle cx="131.5" cy="496.4" r="5.85" fill="#6fe3d8"/>
<circle cx="137.6" cy="497.1" r="5.85" fill="#6fe3d8"/>
<circle cx="145.6" cy="209.4" r="5.85" fill="#6fe3d8"/>
<circle cx="130.0" cy="235.7" r="5.85" fill="#6fe3d8"/>
<circle cx="130.0" cy="240.5" r="5.85" fill="#6fe3d8"/>
<circle cx="137.5" cy="276.9" r="5.85" fill="#6fe3d8"/>
<circle cx="153.8" cy="269.6" r="5.85" fill="#6fe3d8"/>
<circle cx="182.4" cy="272.7" r="5.85" fill="#6fe3d8"/>
<circle cx="286.4" cy="242.2" r="5.85" fill="#6fe3d8"/>
<circle cx="128.7" cy="288.0" r="5.85" fill="#6fe3d8"/>
<circle cx="149.4" cy="288.3" r="5.85" fill="#6fe3d8"/>
<circle cx="151.9" cy="290.8" r="5.85" fill="#6fe3d8"/>
<circle cx="169.0" cy="290.8" r="5.85" fill="#6fe3d8"/>
<circle cx="207.2" cy="301.0" r="5.85" fill="#6fe3d8"/>
<circle cx="129.2" cy="297.6" r="5.85" fill="#6fe3d8"/>
<circle cx="129.2" cy="303.6" r="5.85" fill="#6fe3d8"/>
<circle cx="193.6" cy="311.5" r="5.85" fill="#6fe3d8"/>
<circle cx="214.8" cy="315.8" r="5.85" fill="#6fe3d8"/>
<circle cx="134.9" cy="317.1" r="5.85" fill="#6fe3d8"/>
<circle cx="151.9" cy="313.7" r="5.85" fill="#6fe3d8"/>
<circle cx="134.3" cy="322.2" r="5.85" fill="#6fe3d8"/>
<circle cx="151.6" cy="324.8" r="5.85" fill="#6fe3d8"/>
<circle cx="159.2" cy="323.6" r="5.85" fill="#6fe3d8"/>
<circle cx="192.6" cy="328.5" r="5.85" fill="#6fe3d8"/>
<circle cx="202.4" cy="324.4" r="5.85" fill="#6fe3d8"/>
<circle cx="134.3" cy="334.9" r="5.85" fill="#6fe3d8"/>
<circle cx="140.5" cy="333.2" r="5.85" fill="#6fe3d8"/>
<circle cx="146.1" cy="340.0" r="5.85" fill="#6fe3d8"/>
<circle cx="159.2" cy="339.2" r="5.85" fill="#6fe3d8"/>
<circle cx="154.9" cy="336.6" r="5.85" fill="#6fe3d8"/>
<circle cx="183.8" cy="338.8" r="5.85" fill="#6fe3d8"/>
<circle cx="206.7" cy="341.2" r="5.85" fill="#6fe3d8"/>
<circle cx="197.4" cy="344.3" r="5.85" fill="#6fe3d8"/>
<circle cx="129.2" cy="344.3" r="5.85" fill="#6fe3d8"/>
<circle cx="129.5" cy="347.0" r="5.85" fill="#6fe3d8"/>
<circle cx="163.4" cy="349.5" r="5.85" fill="#6fe3d8"/>
<circle cx="138.0" cy="355.4" r="5.85" fill="#6fe3d8"/>
<circle cx="154.1" cy="347.0" r="5.85" fill="#6fe3d8"/>
<circle cx="150.7" cy="355.4" r="5.85" fill="#6fe3d8"/>
<circle cx="138.8" cy="367.3" r="5.85" fill="#6fe3d8"/>
<circle cx="151.6" cy="366.5" r="5.85" fill="#6fe3d8"/>
<circle cx="160.9" cy="368.2" r="5.85" fill="#6fe3d8"/>
<circle cx="130.4" cy="374.1" r="5.85" fill="#6fe3d8"/>
<circle cx="136.3" cy="381.7" r="5.85" fill="#6fe3d8"/>
<circle cx="152.4" cy="379.2" r="5.85" fill="#6fe3d8"/>
<circle cx="157.5" cy="387.7" r="5.85" fill="#6fe3d8"/>
<circle cx="171.1" cy="388.5" r="5.85" fill="#6fe3d8"/>
<circle cx="182.1" cy="393.6" r="5.85" fill="#6fe3d8"/>
<circle cx="138.8" cy="399.5" r="5.85" fill="#6fe3d8"/>
<circle cx="133.7" cy="392.8" r="5.85" fill="#6fe3d8"/>
<circle cx="147.3" cy="391.1" r="5.85" fill="#6fe3d8"/>
<circle cx="128.7" cy="406.3" r="5.85" fill="#6fe3d8"/>
<circle cx="149.0" cy="408.0" r="5.85" fill="#6fe3d8"/>
<circle cx="158.3" cy="409.7" r="5.85" fill="#6fe3d8"/>
<circle cx="171.1" cy="415.7" r="5.85" fill="#6fe3d8"/>
<circle cx="181.2" cy="414.0" r="5.85" fill="#6fe3d8"/>
<circle cx="183.8" cy="406.3" r="5.85" fill="#6fe3d8"/>
<circle cx="175.3" cy="402.9" r="5.85" fill="#6fe3d8"/>
<circle cx="132.1" cy="418.2" r="5.85" fill="#6fe3d8"/>
<circle cx="143.9" cy="414.8" r="5.85" fill="#6fe3d8"/>
<circle cx="133.7" cy="425.8" r="5.85" fill="#6fe3d8"/>
<circle cx="151.6" cy="426.7" r="5.85" fill="#6fe3d8"/>
<circle cx="143.9" cy="430.1" r="5.85" fill="#6fe3d8"/>
<circle cx="122.7" cy="431.8" r="5.85" fill="#6fe3d8"/>
<circle cx="129.5" cy="439.4" r="5.85" fill="#6fe3d8"/>
<circle cx="155.8" cy="437.7" r="5.85" fill="#6fe3d8"/>
<circle cx="140.5" cy="445.3" r="5.85" fill="#6fe3d8"/>
<circle cx="122.7" cy="450.4" r="5.85" fill="#6fe3d8"/>
<circle cx="150.7" cy="447.0" r="5.85" fill="#6fe3d8"/>
<circle cx="146.5" cy="457.2" r="5.85" fill="#6fe3d8"/>
<circle cx="129.5" cy="458.9" r="5.85" fill="#6fe3d8"/>
<circle cx="123.6" cy="469.1" r="5.85" fill="#6fe3d8"/>
<circle cx="135.4" cy="465.7" r="5.85" fill="#6fe3d8"/>
<circle cx="123.6" cy="475.9" r="5.85" fill="#6fe3d8"/>
<circle cx="166.0" cy="453.0" r="5.85" fill="#6fe3d8"/>
<circle cx="173.6" cy="447.0" r="5.85" fill="#6fe3d8"/>
<circle cx="183.3" cy="453.0" r="5.85" fill="#6fe3d8"/>
<circle cx="174.5" cy="465.7" r="5.85" fill="#6fe3d8"/>
<circle cx="199.9" cy="449.6" r="5.85" fill="#6fe3d8"/>
<circle cx="153.3" cy="477.6" r="5.85" fill="#6fe3d8"/>
<circle cx="178.7" cy="380.9" r="5.85" fill="#6fe3d8"/>
<circle cx="187.2" cy="378.3" r="5.85" fill="#6fe3d8"/>
<circle cx="197.4" cy="384.3" r="5.85" fill="#6fe3d8"/>
<circle cx="181.2" cy="359.7" r="5.85" fill="#6fe3d8"/>
<circle cx="189.7" cy="351.2" r="5.85" fill="#6fe3d8"/>
<circle cx="197.4" cy="347.0" r="5.85" fill="#6fe3d8"/>
<circle cx="192.3" cy="330.8" r="5.85" fill="#6fe3d8"/>
<circle cx="217.7" cy="373.3" r="5.85" fill="#6fe3d8"/>
<circle cx="232.1" cy="380.0" r="5.85" fill="#6fe3d8"/>
<circle cx="214.3" cy="391.9" r="5.85" fill="#6fe3d8"/>
<circle cx="202.4" cy="401.2" r="5.85" fill="#6fe3d8"/>
<circle cx="219.9" cy="416.5" r="5.85" fill="#6fe3d8"/>
<circle cx="289.8" cy="363.9" r="5.85" fill="#6fe3d8"/>
<circle cx="164.3" cy="397.8" r="5.85" fill="#6fe3d8"/>
<circle cx="143.9" cy="401.2" r="5.85" fill="#6fe3d8"/>
<circle cx="125.3" cy="401.2" r="5.85" fill="#6fe3d8"/>
<circle cx="166.0" cy="379.2" r="5.85" fill="#6fe3d8"/>
<circle cx="122.7" cy="479.4" r="5.85" fill="#6fe3d8"/>
<circle cx="138.8" cy="487.1" r="5.85" fill="#6fe3d8"/>
<circle cx="159.2" cy="489.6" r="5.85" fill="#6fe3d8"/>
<circle cx="128.7" cy="502.3" r="5.85" fill="#6fe3d8"/>
<circle cx="132.1" cy="513.3" r="5.85" fill="#6fe3d8"/>
<circle cx="145.6" cy="509.1" r="5.85" fill="#6fe3d8"/>
<circle cx="151.6" cy="514.2" r="5.85" fill="#6fe3d8"/>
<circle cx="136.3" cy="519.3" r="5.85" fill="#6fe3d8"/>
<circle cx="122.7" cy="507.4" r="5.85" fill="#6fe3d8"/>
<circle cx="123.6" cy="527.8" r="5.85" fill="#6fe3d8"/>
<circle cx="154.1" cy="533.7" r="5.85" fill="#6fe3d8"/>
<circle cx="172.8" cy="532.0" r="5.85" fill="#6fe3d8"/>
<circle cx="175.3" cy="512.5" r="5.85" fill="#6fe3d8"/>
<circle cx="158.3" cy="554.1" r="5.85" fill="#6fe3d8"/>
<circle cx="149.0" cy="593.9" r="5.85" fill="#6fe3d8"/>
<circle cx="148.2" cy="605.8" r="5.85" fill="#6fe3d8"/>
<circle cx="131.2" cy="610.0" r="5.85" fill="#6fe3d8"/>
<circle cx="127.0" cy="495.5" r="5.85" fill="#6fe3d8"/>
<circle cx="128.3" cy="632.1" r="5.85" fill="#6fe3d8"/>
<circle cx="158.2" cy="653.1" r="5.85" fill="#6fe3d8"/>
<circle cx="398.3" cy="371.6" r="5.85" fill="#6fe3d8"/>
<circle cx="433.9" cy="423.6" r="5.85" fill="#6fe3d8"/>
<circle cx="470.2" cy="304.5" r="5.85" fill="#6fe3d8"/>
</g>
<path d="M117.5,122.0 V714.2 H682.2" fill="none" stroke="#3b3b3b" stroke-width="1.9"/>
<text transform="translate(101.5,723.8) scale(1,1.065)" text-anchor="end" class="tk">0</text>
<text transform="translate(101.5,625.1) scale(1,1.065)" text-anchor="end" class="tk">500</text>
<text transform="translate(101.5,526.4) scale(1,1.065)" text-anchor="end" class="tk">1000</text>
<text transform="translate(101.5,427.7) scale(1,1.065)" text-anchor="end" class="tk">1500</text>
<text transform="translate(101.5,329.0) scale(1,1.065)" text-anchor="end" class="tk">2000</text>
<text transform="translate(101.5,230.3) scale(1,1.065)" text-anchor="end" class="tk">2500</text>
<text transform="translate(101.5,131.6) scale(1,1.065)" text-anchor="end" class="tk">3000</text>
<text transform="translate(117.5,748.9) scale(1,1.065)" text-anchor="middle" class="tk">0</text>
<text transform="translate(198.2,748.9) scale(1,1.065)" text-anchor="middle" class="tk">250</text>
<text transform="translate(278.8,748.9) scale(1,1.065)" text-anchor="middle" class="tk">500</text>
<text transform="translate(359.5,748.9) scale(1,1.065)" text-anchor="middle" class="tk">750</text>
<text transform="translate(440.2,748.9) scale(1,1.065)" text-anchor="middle" class="tk">1000</text>
<text transform="translate(520.9,748.9) scale(1,1.065)" text-anchor="middle" class="tk">1250</text>
<text transform="translate(601.5,748.9) scale(1,1.065)" text-anchor="middle" class="tk">1500</text>
<text transform="translate(682.2,748.9) scale(1,1.065)" text-anchor="middle" class="tk">1750</text>
<text transform="translate(399.9,778.8) scale(1,1.035)" text-anchor="middle" class="lb">Total Distance</text>
<text transform="translate(32.6,419.2) scale(1.035,1) rotate(-90)" text-anchor="middle" class="lb">Average View Volume</text>
<rect x="718.5" y="139.6" width="37.8" height="12.8" fill="#40e0d0" fill-opacity="0.25" stroke="#6fe3d8" stroke-width="1.6"/>
<text transform="translate(771.5,152.8) scale(1,1.000)" class="lg">Glass</text>
<rect x="718.5" y="165.8" width="37.8" height="12.8" fill="#8a2be2" fill-opacity="0.25" stroke="#8a36ee" stroke-width="1.6"/>
<text transform="translate(771.5,179.0) scale(1,1.000)" class="lg">Átria</text>
<rect x="718.5" y="192.1" width="37.8" height="12.8" fill="#f39c12" fill-opacity="0.25" stroke="#ef9f3a" stroke-width="1.6"/>
<text transform="translate(771.5,205.3) scale(1,1.000)" class="lg">Base-case</text>
<path d="M1025.0,56.0 C1027.9,55.9 1035.0,54.8 1042.5,55.4 C1050.0,56.0 1059.8,57.9 1070.0,59.5 C1080.2,61.1 1092.6,64.7 1103.8,65.3 C1115.0,65.9 1126.7,64.8 1137.4,63.3 C1148.1,61.8 1158.1,58.6 1168.0,56.0 C1177.9,53.4 1188.1,49.9 1196.8,47.5 C1205.5,45.1 1212.8,42.7 1220.0,41.5 C1227.2,40.3 1233.0,40.0 1240.0,40.1 C1247.0,40.2 1255.2,40.9 1262.0,42.0 C1268.8,43.1 1274.2,44.6 1280.7,46.8 C1287.2,49.0 1294.5,52.5 1301.0,55.0 C1307.5,57.5 1313.2,59.8 1320.0,61.5 C1326.8,63.2 1334.0,64.8 1341.7,65.5 C1349.4,66.2 1358.8,66.2 1366.0,65.5 C1373.2,64.8 1378.9,62.8 1385.0,61.0 C1391.1,59.2 1394.8,57.3 1402.8,55.0 C1410.8,52.7 1422.8,49.2 1433.0,47.0 C1443.2,44.8 1455.3,42.2 1463.8,41.7 C1472.3,41.2 1477.3,42.2 1484.2,43.8 C1491.1,45.3 1498.2,48.1 1505.0,51.0 C1511.8,53.9 1518.3,57.3 1525.0,61.0 C1531.7,64.7 1538.2,68.9 1545.0,73.0 C1551.8,77.1 1558.2,82.1 1565.6,85.5 C1573.0,88.9 1585.6,92.2 1589.6,93.6 L1589.6,100.8 L1025.0,100.8 Z" fill="#40e0d0" fill-opacity="0.25" stroke="none"/><path d="M1025.0,56.0 C1027.9,55.9 1035.0,54.8 1042.5,55.4 C1050.0,56.0 1059.8,57.9 1070.0,59.5 C1080.2,61.1 1092.6,64.7 1103.8,65.3 C1115.0,65.9 1126.7,64.8 1137.4,63.3 C1148.1,61.8 1158.1,58.6 1168.0,56.0 C1177.9,53.4 1188.1,49.9 1196.8,47.5 C1205.5,45.1 1212.8,42.7 1220.0,41.5 C1227.2,40.3 1233.0,40.0 1240.0,40.1 C1247.0,40.2 1255.2,40.9 1262.0,42.0 C1268.8,43.1 1274.2,44.6 1280.7,46.8 C1287.2,49.0 1294.5,52.5 1301.0,55.0 C1307.5,57.5 1313.2,59.8 1320.0,61.5 C1326.8,63.2 1334.0,64.8 1341.7,65.5 C1349.4,66.2 1358.8,66.2 1366.0,65.5 C1373.2,64.8 1378.9,62.8 1385.0,61.0 C1391.1,59.2 1394.8,57.3 1402.8,55.0 C1410.8,52.7 1422.8,49.2 1433.0,47.0 C1443.2,44.8 1455.3,42.2 1463.8,41.7 C1472.3,41.2 1477.3,42.2 1484.2,43.8 C1491.1,45.3 1498.2,48.1 1505.0,51.0 C1511.8,53.9 1518.3,57.3 1525.0,61.0 C1531.7,64.7 1538.2,68.9 1545.0,73.0 C1551.8,77.1 1558.2,82.1 1565.6,85.5 C1573.0,88.9 1585.6,92.2 1589.6,93.6" fill="none" stroke="#6fe3d8" stroke-width="1.6"/>
<path d="M1025.0,24.7 C1027.2,25.2 1033.0,25.2 1038.5,27.7 C1044.0,30.2 1051.7,35.0 1058.3,39.6 C1064.9,44.2 1072.4,51.2 1078.0,55.4 C1083.6,59.6 1087.7,62.7 1092.0,65.0 C1096.3,67.3 1100.0,69.0 1103.8,69.3 C1107.6,69.6 1111.0,68.3 1115.0,67.0 C1119.0,65.7 1120.5,66.5 1127.5,61.3 C1134.5,56.1 1147.3,43.8 1157.2,35.6 C1167.1,27.4 1178.0,17.3 1186.9,11.9 C1195.8,6.5 1202.3,3.1 1210.6,3.4 C1218.8,3.7 1228.2,9.3 1236.4,13.9 C1244.6,18.5 1252.6,25.7 1260.0,31.0 C1267.4,36.3 1274.0,41.7 1280.7,45.8 C1287.4,49.9 1293.2,52.6 1300.0,55.5 C1306.8,58.4 1311.4,60.7 1321.4,63.1 C1331.4,65.5 1346.4,68.0 1360.0,70.0 C1373.6,72.0 1385.5,72.9 1402.8,75.3 C1420.1,77.7 1446.8,81.3 1463.8,84.5 C1480.8,87.7 1494.3,92.3 1504.5,94.6 C1514.7,96.8 1518.2,97.2 1525.0,98.0 C1531.8,98.8 1534.3,99.3 1545.0,99.7 C1555.7,100.1 1581.7,100.2 1589.0,100.3 L1589.0,100.8 L1025.0,100.8 Z" fill="#8a2be2" fill-opacity="0.25" stroke="none"/><path d="M1025.0,24.7 C1027.2,25.2 1033.0,25.2 1038.5,27.7 C1044.0,30.2 1051.7,35.0 1058.3,39.6 C1064.9,44.2 1072.4,51.2 1078.0,55.4 C1083.6,59.6 1087.7,62.7 1092.0,65.0 C1096.3,67.3 1100.0,69.0 1103.8,69.3 C1107.6,69.6 1111.0,68.3 1115.0,67.0 C1119.0,65.7 1120.5,66.5 1127.5,61.3 C1134.5,56.1 1147.3,43.8 1157.2,35.6 C1167.1,27.4 1178.0,17.3 1186.9,11.9 C1195.8,6.5 1202.3,3.1 1210.6,3.4 C1218.8,3.7 1228.2,9.3 1236.4,13.9 C1244.6,18.5 1252.6,25.7 1260.0,31.0 C1267.4,36.3 1274.0,41.7 1280.7,45.8 C1287.4,49.9 1293.2,52.6 1300.0,55.5 C1306.8,58.4 1311.4,60.7 1321.4,63.1 C1331.4,65.5 1346.4,68.0 1360.0,70.0 C1373.6,72.0 1385.5,72.9 1402.8,75.3 C1420.1,77.7 1446.8,81.3 1463.8,84.5 C1480.8,87.7 1494.3,92.3 1504.5,94.6 C1514.7,96.8 1518.2,97.2 1525.0,98.0 C1531.8,98.8 1534.3,99.3 1545.0,99.7 C1555.7,100.1 1581.7,100.2 1589.0,100.3" fill="none" stroke="#8a36ee" stroke-width="1.6"/>
<path d="M1025.0,35.0 C1027.9,35.6 1035.3,35.9 1042.5,38.6 C1049.7,41.3 1060.3,47.2 1068.2,51.4 C1076.1,55.5 1084.1,60.8 1090.0,63.5 C1095.9,66.2 1099.1,67.7 1103.8,67.9 C1108.5,68.2 1112.4,66.8 1118.0,65.0 C1123.6,63.2 1127.6,62.6 1137.4,57.4 C1147.2,52.2 1167.4,39.1 1177.0,33.6 C1186.6,28.1 1189.1,26.7 1195.0,24.5 C1200.9,22.3 1206.4,20.2 1212.6,20.2 C1218.8,20.2 1225.8,22.8 1232.0,24.5 C1238.2,26.2 1241.9,27.1 1250.0,30.7 C1258.1,34.2 1270.7,41.2 1280.7,45.8 C1290.7,50.3 1299.8,54.8 1310.0,58.0 C1320.2,61.2 1326.2,62.4 1341.7,65.1 C1357.2,67.8 1382.5,71.4 1402.8,74.3 C1423.1,77.2 1450.1,80.1 1463.8,82.4 C1477.5,84.7 1478.2,86.1 1485.0,88.0 C1491.8,89.9 1497.8,92.0 1504.5,93.6 C1511.2,95.2 1518.2,96.5 1525.0,97.5 C1531.8,98.5 1534.3,98.8 1545.0,99.3 C1555.7,99.8 1581.7,100.1 1589.0,100.3 L1589.0,100.8 L1025.0,100.8 Z" fill="#f39c12" fill-opacity="0.25" stroke="none"/><path d="M1025.0,35.0 C1027.9,35.6 1035.3,35.9 1042.5,38.6 C1049.7,41.3 1060.3,47.2 1068.2,51.4 C1076.1,55.5 1084.1,60.8 1090.0,63.5 C1095.9,66.2 1099.1,67.7 1103.8,67.9 C1108.5,68.2 1112.4,66.8 1118.0,65.0 C1123.6,63.2 1127.6,62.6 1137.4,57.4 C1147.2,52.2 1167.4,39.1 1177.0,33.6 C1186.6,28.1 1189.1,26.7 1195.0,24.5 C1200.9,22.3 1206.4,20.2 1212.6,20.2 C1218.8,20.2 1225.8,22.8 1232.0,24.5 C1238.2,26.2 1241.9,27.1 1250.0,30.7 C1258.1,34.2 1270.7,41.2 1280.7,45.8 C1290.7,50.3 1299.8,54.8 1310.0,58.0 C1320.2,61.2 1326.2,62.4 1341.7,65.1 C1357.2,67.8 1382.5,71.4 1402.8,74.3 C1423.1,77.2 1450.1,80.1 1463.8,82.4 C1477.5,84.7 1478.2,86.1 1485.0,88.0 C1491.8,89.9 1497.8,92.0 1504.5,93.6 C1511.2,95.2 1518.2,96.5 1525.0,97.5 C1531.8,98.5 1534.3,98.8 1545.0,99.3 C1555.7,99.8 1581.7,100.1 1589.0,100.3" fill="none" stroke="#ef9f3a" stroke-width="1.6"/>
<line x1="1024.1" y1="100.8" x2="1589.7" y2="100.8" stroke="#3b3b3b" stroke-width="1.9"/>
<path d="M1609.4,149.1 C1609.5,153.3 1609.6,165.8 1610.0,174.1 C1610.4,182.4 1611.2,189.9 1612.0,199.1 C1612.8,208.3 1613.5,219.8 1614.5,229.1 C1615.5,238.4 1616.3,248.0 1617.8,254.7 C1619.3,261.4 1621.2,264.6 1623.5,269.1 C1625.8,273.6 1627.5,276.8 1631.5,281.8 C1635.5,286.8 1641.9,292.9 1647.5,299.1 C1653.1,305.3 1659.3,311.6 1665.3,319.1 C1671.3,326.6 1678.5,336.6 1683.5,344.1 C1688.5,351.6 1692.8,357.8 1695.5,364.1 C1698.2,370.4 1699.8,376.3 1700.0,382.1 C1700.2,387.9 1698.7,392.1 1696.9,399.1 C1695.2,406.1 1692.2,415.1 1689.5,424.1 C1686.8,433.1 1685.1,443.0 1680.6,453.3 C1676.1,463.6 1668.0,477.7 1662.5,485.8 C1657.0,493.9 1652.9,496.7 1647.5,502.1 C1642.1,507.5 1634.7,512.6 1630.0,518.4 C1625.3,524.2 1621.9,531.7 1619.5,537.1 C1617.1,542.5 1616.8,542.6 1615.5,550.9 C1614.2,559.2 1612.9,570.7 1612.0,587.1 C1611.1,603.5 1610.5,628.1 1610.1,649.1 C1609.7,670.1 1609.6,702.4 1609.5,713.1 L1609.2,713.1 L1609.2,149.1 Z" fill="#40e0d0" fill-opacity="0.25" stroke="none"/><path d="M1609.4,149.1 C1609.5,153.3 1609.6,165.8 1610.0,174.1 C1610.4,182.4 1611.2,189.9 1612.0,199.1 C1612.8,208.3 1613.5,219.8 1614.5,229.1 C1615.5,238.4 1616.3,248.0 1617.8,254.7 C1619.3,261.4 1621.2,264.6 1623.5,269.1 C1625.8,273.6 1627.5,276.8 1631.5,281.8 C1635.5,286.8 1641.9,292.9 1647.5,299.1 C1653.1,305.3 1659.3,311.6 1665.3,319.1 C1671.3,326.6 1678.5,336.6 1683.5,344.1 C1688.5,351.6 1692.8,357.8 1695.5,364.1 C1698.2,370.4 1699.8,376.3 1700.0,382.1 C1700.2,387.9 1698.7,392.1 1696.9,399.1 C1695.2,406.1 1692.2,415.1 1689.5,424.1 C1686.8,433.1 1685.1,443.0 1680.6,453.3 C1676.1,463.6 1668.0,477.7 1662.5,485.8 C1657.0,493.9 1652.9,496.7 1647.5,502.1 C1642.1,507.5 1634.7,512.6 1630.0,518.4 C1625.3,524.2 1621.9,531.7 1619.5,537.1 C1617.1,542.5 1616.8,542.6 1615.5,550.9 C1614.2,559.2 1612.9,570.7 1612.0,587.1 C1611.1,603.5 1610.5,628.1 1610.1,649.1 C1609.7,670.1 1609.6,702.4 1609.5,713.1" fill="none" stroke="#6fe3d8" stroke-width="1.6"/>
<path d="M1609.4,124.1 C1609.5,128.9 1609.2,139.7 1610.0,153.0 C1610.8,166.3 1612.3,190.8 1614.5,203.8 C1616.7,216.8 1620.7,223.1 1622.9,231.0 C1625.1,238.9 1626.5,244.9 1627.5,251.1 C1628.5,257.3 1628.9,261.9 1628.7,268.1 C1628.5,274.4 1627.8,281.8 1626.3,288.6 C1624.8,295.4 1620.8,302.2 1619.5,308.9 C1618.2,315.7 1618.4,322.4 1618.5,329.1 C1618.6,335.8 1619.3,342.3 1620.0,349.1 C1620.7,355.9 1620.0,361.6 1622.9,369.9 C1625.8,378.2 1632.5,391.2 1637.3,399.1 C1642.1,407.0 1647.5,412.6 1651.7,417.4 C1655.9,422.2 1658.7,423.1 1662.5,428.0 C1666.3,432.9 1671.2,439.9 1674.5,447.1 C1677.8,454.3 1681.8,464.3 1682.5,471.4 C1683.2,478.5 1681.0,482.9 1678.8,489.5 C1676.6,496.1 1672.8,503.3 1669.5,511.1 C1666.2,518.9 1663.1,524.9 1658.9,536.4 C1654.7,547.9 1648.7,565.4 1644.5,579.8 C1640.3,594.3 1637.2,607.4 1633.6,623.1 C1630.0,638.8 1626.1,659.3 1622.8,673.8 C1619.5,688.3 1615.7,703.4 1613.8,709.9 C1611.9,716.4 1611.9,712.6 1611.5,713.1 L1609.2,713.1 L1609.2,124.1 Z" fill="#8a2be2" fill-opacity="0.25" stroke="none"/><path d="M1609.4,124.1 C1609.5,128.9 1609.2,139.7 1610.0,153.0 C1610.8,166.3 1612.3,190.8 1614.5,203.8 C1616.7,216.8 1620.7,223.1 1622.9,231.0 C1625.1,238.9 1626.5,244.9 1627.5,251.1 C1628.5,257.3 1628.9,261.9 1628.7,268.1 C1628.5,274.4 1627.8,281.8 1626.3,288.6 C1624.8,295.4 1620.8,302.2 1619.5,308.9 C1618.2,315.7 1618.4,322.4 1618.5,329.1 C1618.6,335.8 1619.3,342.3 1620.0,349.1 C1620.7,355.9 1620.0,361.6 1622.9,369.9 C1625.8,378.2 1632.5,391.2 1637.3,399.1 C1642.1,407.0 1647.5,412.6 1651.7,417.4 C1655.9,422.2 1658.7,423.1 1662.5,428.0 C1666.3,432.9 1671.2,439.9 1674.5,447.1 C1677.8,454.3 1681.8,464.3 1682.5,471.4 C1683.2,478.5 1681.0,482.9 1678.8,489.5 C1676.6,496.1 1672.8,503.3 1669.5,511.1 C1666.2,518.9 1663.1,524.9 1658.9,536.4 C1654.7,547.9 1648.7,565.4 1644.5,579.8 C1640.3,594.3 1637.2,607.4 1633.6,623.1 C1630.0,638.8 1626.1,659.3 1622.8,673.8 C1619.5,688.3 1615.7,703.4 1613.8,709.9 C1611.9,716.4 1611.9,712.6 1611.5,713.1" fill="none" stroke="#8a36ee" stroke-width="1.6"/>
<path d="M1609.4,199.1 C1609.6,204.1 1609.7,219.1 1610.5,229.1 C1611.3,239.1 1613.0,250.8 1614.5,259.1 C1616.0,267.4 1617.9,273.1 1619.5,279.1 C1621.1,285.1 1622.6,286.8 1623.9,295.1 C1625.2,303.4 1627.2,319.3 1627.3,329.1 C1627.4,338.9 1625.2,347.3 1624.5,354.1 C1623.8,360.9 1622.3,362.4 1622.9,369.9 C1623.5,377.4 1624.6,388.2 1628.2,399.1 C1631.8,410.0 1637.6,423.8 1644.5,435.2 C1651.4,446.7 1664.0,460.2 1669.8,467.8 C1675.6,475.4 1677.2,476.9 1679.5,481.1 C1681.8,485.3 1683.6,487.5 1683.5,493.1 C1683.4,498.7 1682.9,505.1 1678.8,514.7 C1674.7,524.3 1664.5,539.3 1658.9,550.9 C1653.4,562.5 1649.1,573.3 1645.5,584.1 C1641.9,594.9 1639.6,605.1 1637.3,615.9 C1635.0,626.7 1632.7,639.5 1631.5,649.1 C1630.3,658.8 1631.5,666.0 1630.0,673.8 C1628.5,681.6 1624.9,689.8 1622.5,696.1 C1620.1,702.4 1617.0,708.9 1615.5,711.7 C1614.0,714.5 1613.8,712.9 1613.5,713.1 L1609.2,713.1 L1609.2,199.1 Z" fill="#f39c12" fill-opacity="0.25" stroke="none"/><path d="M1609.4,199.1 C1609.6,204.1 1609.7,219.1 1610.5,229.1 C1611.3,239.1 1613.0,250.8 1614.5,259.1 C1616.0,267.4 1617.9,273.1 1619.5,279.1 C1621.1,285.1 1622.6,286.8 1623.9,295.1 C1625.2,303.4 1627.2,319.3 1627.3,329.1 C1627.4,338.9 1625.2,347.3 1624.5,354.1 C1623.8,360.9 1622.3,362.4 1622.9,369.9 C1623.5,377.4 1624.6,388.2 1628.2,399.1 C1631.8,410.0 1637.6,423.8 1644.5,435.2 C1651.4,446.7 1664.0,460.2 1669.8,467.8 C1675.6,475.4 1677.2,476.9 1679.5,481.1 C1681.8,485.3 1683.6,487.5 1683.5,493.1 C1683.4,498.7 1682.9,505.1 1678.8,514.7 C1674.7,524.3 1664.5,539.3 1658.9,550.9 C1653.4,562.5 1649.1,573.3 1645.5,584.1 C1641.9,594.9 1639.6,605.1 1637.3,615.9 C1635.0,626.7 1632.7,639.5 1631.5,649.1 C1630.3,658.8 1631.5,666.0 1630.0,673.8 C1628.5,681.6 1624.9,689.8 1622.5,696.1 C1620.1,702.4 1617.0,708.9 1615.5,711.7 C1614.0,714.5 1613.8,712.9 1613.5,713.1" fill="none" stroke="#ef9f3a" stroke-width="1.6"/>
<line x1="1609.2" y1="121.1" x2="1609.2" y2="714.2" stroke="#3b3b3b" stroke-width="1.9"/>
<g clip-path="url(#cr)" stroke="#fff" stroke-width="0.8">
<circle cx="1160.6" cy="426.2" r="5.85" fill="#f09e3a"/>
<circle cx="1171.7" cy="426.2" r="5.85" fill="#f09e3a"/>
<circle cx="1190.7" cy="425.7" r="5.85" fill="#f09e3a"/>
<circle cx="1167.1" cy="433.4" r="5.85" fill="#f09e3a"/>
<circle cx="1172.8" cy="435.4" r="5.85" fill="#f09e3a"/>
<circle cx="1200.6" cy="432.2" r="5.85" fill="#f09e3a"/>
<circle cx="1162.3" cy="439.9" r="5.85" fill="#f09e3a"/>
<circle cx="1178.3" cy="441.6" r="5.85" fill="#f09e3a"/>
<circle cx="1186.5" cy="442.7" r="5.85" fill="#f09e3a"/>
<circle cx="1199.8" cy="439.1" r="5.85" fill="#f09e3a"/>
<circle cx="1205.5" cy="440.7" r="5.85" fill="#f09e3a"/>
<circle cx="1194.4" cy="451.9" r="5.85" fill="#f09e3a"/>
<circle cx="1221.5" cy="452.2" r="5.85" fill="#f09e3a"/>
<circle cx="1170.9" cy="459.3" r="5.85" fill="#f09e3a"/>
<circle cx="1189.5" cy="456.8" r="5.85" fill="#f09e3a"/>
<circle cx="1209.7" cy="458.7" r="5.85" fill="#f09e3a"/>
<circle cx="1227.4" cy="457.7" r="5.85" fill="#f09e3a"/>
<circle cx="1166.4" cy="468.3" r="5.85" fill="#f09e3a"/>
<circle cx="1175.2" cy="467.2" r="5.85" fill="#f09e3a"/>
<circle cx="1182.1" cy="467.5" r="5.85" fill="#f09e3a"/>
<circle cx="1194.1" cy="465.7" r="5.85" fill="#f09e3a"/>
<circle cx="1204.1" cy="466.8" r="5.85" fill="#f09e3a"/>
<circle cx="1222.5" cy="464.7" r="5.85" fill="#f09e3a"/>
<circle cx="1231.9" cy="463.8" r="5.85" fill="#f09e3a"/>
<circle cx="1188.7" cy="473.6" r="5.85" fill="#f09e3a"/>
<circle cx="1215.2" cy="474.8" r="5.85" fill="#f09e3a"/>
<circle cx="1228.8" cy="476.7" r="5.85" fill="#f09e3a"/>
<circle cx="1243.5" cy="474.7" r="5.85" fill="#f09e3a"/>
<circle cx="1253.2" cy="475.0" r="5.85" fill="#f09e3a"/>
<circle cx="1165.2" cy="481.4" r="5.85" fill="#f09e3a"/>
<circle cx="1193.1" cy="480.7" r="5.85" fill="#f09e3a"/>
<circle cx="1202.5" cy="481.6" r="5.85" fill="#f09e3a"/>
<circle cx="1213.9" cy="480.2" r="5.85" fill="#f09e3a"/>
<circle cx="1220.6" cy="484.8" r="5.85" fill="#f09e3a"/>
<circle cx="1243.2" cy="481.6" r="5.85" fill="#f09e3a"/>
<circle cx="1250.1" cy="483.3" r="5.85" fill="#f09e3a"/>
<circle cx="1178.8" cy="492.9" r="5.85" fill="#f09e3a"/>
<circle cx="1188.7" cy="488.4" r="5.85" fill="#f09e3a"/>
<circle cx="1197.6" cy="491.2" r="5.85" fill="#f09e3a"/>
<circle cx="1208.2" cy="490.7" r="5.85" fill="#f09e3a"/>
<circle cx="1216.4" cy="490.3" r="5.85" fill="#f09e3a"/>
<circle cx="1225.0" cy="489.8" r="5.85" fill="#f09e3a"/>
<circle cx="1233.8" cy="492.5" r="5.85" fill="#f09e3a"/>
<circle cx="1245.2" cy="489.7" r="5.85" fill="#f09e3a"/>
<circle cx="1257.1" cy="489.0" r="5.85" fill="#f09e3a"/>
<circle cx="1186.1" cy="501.5" r="5.85" fill="#f09e3a"/>
<circle cx="1203.5" cy="501.3" r="5.85" fill="#f09e3a"/>
<circle cx="1210.4" cy="498.0" r="5.85" fill="#f09e3a"/>
<circle cx="1248.0" cy="499.4" r="5.85" fill="#f09e3a"/>
<circle cx="1268.3" cy="499.5" r="5.85" fill="#f09e3a"/>
<circle cx="1187.3" cy="508.5" r="5.85" fill="#f09e3a"/>
<circle cx="1208.7" cy="505.7" r="5.85" fill="#f09e3a"/>
<circle cx="1217.8" cy="505.2" r="5.85" fill="#f09e3a"/>
<circle cx="1224.5" cy="505.4" r="5.85" fill="#f09e3a"/>
<circle cx="1234.7" cy="509.2" r="5.85" fill="#f09e3a"/>
<circle cx="1272.1" cy="509.6" r="5.85" fill="#f09e3a"/>
<circle cx="1194.9" cy="516.2" r="5.85" fill="#f09e3a"/>
<circle cx="1202.4" cy="517.3" r="5.85" fill="#f09e3a"/>
<circle cx="1212.7" cy="515.9" r="5.85" fill="#f09e3a"/>
<circle cx="1229.8" cy="513.2" r="5.85" fill="#f09e3a"/>
<circle cx="1250.1" cy="517.4" r="5.85" fill="#f09e3a"/>
<circle cx="1233.9" cy="523.2" r="5.85" fill="#f09e3a"/>
<circle cx="1244.8" cy="522.8" r="5.85" fill="#f09e3a"/>
<circle cx="1253.9" cy="524.9" r="5.85" fill="#f09e3a"/>
<circle cx="1262.8" cy="522.4" r="5.85" fill="#f09e3a"/>
<circle cx="1250.3" cy="531.5" r="5.85" fill="#f09e3a"/>
<circle cx="1269.5" cy="534.1" r="5.85" fill="#f09e3a"/>
<circle cx="1288.4" cy="531.9" r="5.85" fill="#f09e3a"/>
<circle cx="1264.1" cy="539.2" r="5.85" fill="#f09e3a"/>
<circle cx="1274.3" cy="542.2" r="5.85" fill="#f09e3a"/>
<circle cx="1294.6" cy="541.0" r="5.85" fill="#f09e3a"/>
<circle cx="1238.9" cy="547.7" r="5.85" fill="#f09e3a"/>
<circle cx="1266.8" cy="548.8" r="5.85" fill="#f09e3a"/>
<circle cx="1279.9" cy="546.4" r="5.85" fill="#f09e3a"/>
<circle cx="1253.9" cy="555.1" r="5.85" fill="#f09e3a"/>
<circle cx="1273.3" cy="555.4" r="5.85" fill="#f09e3a"/>
<circle cx="1285.2" cy="558.4" r="5.85" fill="#f09e3a"/>
<circle cx="1292.5" cy="554.8" r="5.85" fill="#f09e3a"/>
<circle cx="1258.8" cy="564.3" r="5.85" fill="#f09e3a"/>
<circle cx="1270.3" cy="564.4" r="5.85" fill="#f09e3a"/>
<circle cx="1280.3" cy="567.0" r="5.85" fill="#f09e3a"/>
<circle cx="1289.1" cy="565.0" r="5.85" fill="#f09e3a"/>
<circle cx="1297.1" cy="565.3" r="5.85" fill="#f09e3a"/>
<circle cx="1293.8" cy="575.1" r="5.85" fill="#f09e3a"/>
<circle cx="1268.8" cy="580.9" r="5.85" fill="#f09e3a"/>
<circle cx="1295.4" cy="579.4" r="5.85" fill="#f09e3a"/>
<circle cx="1186.1" cy="435.2" r="5.85" fill="#8b3bf3"/>
<circle cx="1192.6" cy="431.6" r="5.85" fill="#8b3bf3"/>
<circle cx="1209.8" cy="434.1" r="5.85" fill="#8b3bf3"/>
<circle cx="1171.6" cy="443.7" r="5.85" fill="#8b3bf3"/>
<circle cx="1166.4" cy="449.5" r="5.85" fill="#8b3bf3"/>
<circle cx="1172.0" cy="451.8" r="5.85" fill="#8b3bf3"/>
<circle cx="1183.7" cy="451.4" r="5.85" fill="#8b3bf3"/>
<circle cx="1204.2" cy="447.7" r="5.85" fill="#8b3bf3"/>
<circle cx="1210.5" cy="451.4" r="5.85" fill="#8b3bf3"/>
<circle cx="1161.4" cy="459.7" r="5.85" fill="#8b3bf3"/>
<circle cx="1179.8" cy="459.2" r="5.85" fill="#8b3bf3"/>
<circle cx="1199.3" cy="458.9" r="5.85" fill="#8b3bf3"/>
<circle cx="1214.6" cy="458.1" r="5.85" fill="#8b3bf3"/>
<circle cx="1236.7" cy="459.4" r="5.85" fill="#8b3bf3"/>
<circle cx="1209.9" cy="464.4" r="5.85" fill="#8b3bf3"/>
<circle cx="1239.4" cy="463.9" r="5.85" fill="#8b3bf3"/>
<circle cx="1167.6" cy="476.0" r="5.85" fill="#8b3bf3"/>
<circle cx="1176.7" cy="474.9" r="5.85" fill="#8b3bf3"/>
<circle cx="1200.3" cy="476.0" r="5.85" fill="#8b3bf3"/>
<circle cx="1209.1" cy="475.1" r="5.85" fill="#8b3bf3"/>
<circle cx="1235.3" cy="476.3" r="5.85" fill="#8b3bf3"/>
<circle cx="1174.2" cy="482.2" r="5.85" fill="#8b3bf3"/>
<circle cx="1186.2" cy="482.5" r="5.85" fill="#8b3bf3"/>
<circle cx="1230.0" cy="481.4" r="5.85" fill="#8b3bf3"/>
<circle cx="1264.7" cy="490.8" r="5.85" fill="#8b3bf3"/>
<circle cx="1191.0" cy="500.8" r="5.85" fill="#8b3bf3"/>
<circle cx="1220.0" cy="499.6" r="5.85" fill="#8b3bf3"/>
<circle cx="1229.6" cy="499.7" r="5.85" fill="#8b3bf3"/>
<circle cx="1238.8" cy="498.4" r="5.85" fill="#8b3bf3"/>
<circle cx="1261.6" cy="497.2" r="5.85" fill="#8b3bf3"/>
<circle cx="1196.2" cy="505.9" r="5.85" fill="#8b3bf3"/>
<circle cx="1244.6" cy="508.8" r="5.85" fill="#8b3bf3"/>
<circle cx="1256.1" cy="505.0" r="5.85" fill="#8b3bf3"/>
<circle cx="1266.8" cy="508.2" r="5.85" fill="#8b3bf3"/>
<circle cx="1221.2" cy="513.5" r="5.85" fill="#8b3bf3"/>
<circle cx="1240.7" cy="516.8" r="5.85" fill="#8b3bf3"/>
<circle cx="1259.4" cy="515.3" r="5.85" fill="#8b3bf3"/>
<circle cx="1267.5" cy="513.8" r="5.85" fill="#8b3bf3"/>
<circle cx="1278.2" cy="517.4" r="5.85" fill="#8b3bf3"/>
<circle cx="1205.6" cy="524.6" r="5.85" fill="#8b3bf3"/>
<circle cx="1217.9" cy="524.9" r="5.85" fill="#8b3bf3"/>
<circle cx="1225.0" cy="521.3" r="5.85" fill="#8b3bf3"/>
<circle cx="1276.2" cy="524.5" r="5.85" fill="#8b3bf3"/>
<circle cx="1285.9" cy="521.3" r="5.85" fill="#8b3bf3"/>
<circle cx="1210.0" cy="530.7" r="5.85" fill="#8b3bf3"/>
<circle cx="1221.2" cy="529.8" r="5.85" fill="#8b3bf3"/>
<circle cx="1230.8" cy="531.0" r="5.85" fill="#8b3bf3"/>
<circle cx="1238.4" cy="534.3" r="5.85" fill="#8b3bf3"/>
<circle cx="1257.7" cy="531.0" r="5.85" fill="#8b3bf3"/>
<circle cx="1280.5" cy="530.5" r="5.85" fill="#8b3bf3"/>
<circle cx="1225.2" cy="538.1" r="5.85" fill="#8b3bf3"/>
<circle cx="1236.4" cy="538.9" r="5.85" fill="#8b3bf3"/>
<circle cx="1246.5" cy="537.9" r="5.85" fill="#8b3bf3"/>
<circle cx="1253.9" cy="539.5" r="5.85" fill="#8b3bf3"/>
<circle cx="1284.8" cy="540.6" r="5.85" fill="#8b3bf3"/>
<circle cx="1252.5" cy="549.0" r="5.85" fill="#8b3bf3"/>
<circle cx="1259.4" cy="547.7" r="5.85" fill="#8b3bf3"/>
<circle cx="1286.6" cy="549.5" r="5.85" fill="#8b3bf3"/>
<circle cx="1299.9" cy="549.9" r="5.85" fill="#8b3bf3"/>
<circle cx="1247.4" cy="556.1" r="5.85" fill="#8b3bf3"/>
<circle cx="1263.8" cy="557.9" r="5.85" fill="#8b3bf3"/>
<circle cx="1249.7" cy="563.9" r="5.85" fill="#8b3bf3"/>
<circle cx="1264.6" cy="575.1" r="5.85" fill="#8b3bf3"/>
<circle cx="1276.4" cy="573.3" r="5.85" fill="#8b3bf3"/>
<circle cx="1281.0" cy="572.5" r="5.85" fill="#8b3bf3"/>
<circle cx="1280.8" cy="580.3" r="5.85" fill="#8b3bf3"/>
<circle cx="1288.8" cy="583.6" r="5.85" fill="#8b3bf3"/>
<circle cx="1025.5" cy="313.7" r="5.85" fill="#f09e3a"/>
<circle cx="1025.5" cy="318.8" r="5.85" fill="#f09e3a"/>
<circle cx="1025.5" cy="356.6" r="5.85" fill="#f09e3a"/>
<circle cx="1025.5" cy="374.8" r="5.85" fill="#f09e3a"/>
<circle cx="1037.9" cy="407.5" r="5.85" fill="#f09e3a"/>
<circle cx="1103.2" cy="407.8" r="5.85" fill="#f09e3a"/>
<circle cx="1100.7" cy="418.0" r="5.85" fill="#f09e3a"/>
<circle cx="1127.0" cy="413.3" r="5.85" fill="#f09e3a"/>
<circle cx="1113.0" cy="440.1" r="5.85" fill="#f09e3a"/>
<circle cx="1138.5" cy="438.4" r="5.85" fill="#f09e3a"/>
<circle cx="1117.6" cy="457.0" r="5.85" fill="#f09e3a"/>
<circle cx="1119.3" cy="452.0" r="5.85" fill="#f09e3a"/>
<circle cx="1170.7" cy="438.4" r="5.85" fill="#f09e3a"/>
<circle cx="1177.0" cy="432.4" r="5.85" fill="#f09e3a"/>
<circle cx="1166.0" cy="452.0" r="5.85" fill="#f09e3a"/>
<circle cx="1216.9" cy="407.8" r="5.85" fill="#f09e3a"/>
<circle cx="1212.6" cy="441.8" r="5.85" fill="#f09e3a"/>
<circle cx="1128.3" cy="480.4" r="5.85" fill="#f09e3a"/>
<circle cx="1138.0" cy="483.8" r="5.85" fill="#f09e3a"/>
<circle cx="1160.0" cy="480.8" r="5.85" fill="#f09e3a"/>
<circle cx="1220.2" cy="469.8" r="5.85" fill="#f09e3a"/>
<circle cx="1218.5" cy="474.8" r="5.85" fill="#f09e3a"/>
<circle cx="1227.9" cy="474.0" r="5.85" fill="#f09e3a"/>
<circle cx="1025.5" cy="518.9" r="5.85" fill="#f09e3a"/>
<circle cx="1025.5" cy="537.6" r="5.85" fill="#f09e3a"/>
<circle cx="1025.5" cy="553.4" r="5.85" fill="#f09e3a"/>
<circle cx="1025.5" cy="581.2" r="5.85" fill="#f09e3a"/>
<circle cx="1025.5" cy="621.5" r="5.85" fill="#f09e3a"/>
<circle cx="1094.2" cy="511.0" r="5.85" fill="#f09e3a"/>
<circle cx="1148.5" cy="520.1" r="5.85" fill="#f09e3a"/>
<circle cx="1134.6" cy="492.1" r="5.85" fill="#f09e3a"/>
<circle cx="1156.6" cy="498.2" r="5.85" fill="#f09e3a"/>
<circle cx="1163.9" cy="514.2" r="5.85" fill="#f09e3a"/>
<circle cx="1174.1" cy="510.8" r="5.85" fill="#f09e3a"/>
<circle cx="1169.7" cy="501.1" r="5.85" fill="#f09e3a"/>
<circle cx="1180.9" cy="514.7" r="5.85" fill="#f09e3a"/>
<circle cx="1187.2" cy="504.5" r="5.85" fill="#f09e3a"/>
<circle cx="1195.6" cy="514.7" r="5.85" fill="#f09e3a"/>
<circle cx="1205.0" cy="526.6" r="5.85" fill="#f09e3a"/>
<circle cx="1199.0" cy="535.5" r="5.85" fill="#f09e3a"/>
<circle cx="1191.4" cy="530.8" r="5.85" fill="#f09e3a"/>
<circle cx="1190.6" cy="541.0" r="5.85" fill="#f09e3a"/>
<circle cx="1188.9" cy="550.3" r="5.85" fill="#f09e3a"/>
<circle cx="1217.7" cy="549.5" r="5.85" fill="#f09e3a"/>
<circle cx="1227.0" cy="563.0" r="5.85" fill="#f09e3a"/>
<circle cx="1226.2" cy="574.9" r="5.85" fill="#f09e3a"/>
<circle cx="1218.5" cy="518.9" r="5.85" fill="#f09e3a"/>
<circle cx="1265.5" cy="426.8" r="5.85" fill="#f09e3a"/>
<circle cx="1274.3" cy="447.7" r="5.85" fill="#f09e3a"/>
<circle cx="1261.6" cy="459.6" r="5.85" fill="#f09e3a"/>
<circle cx="1223.4" cy="470.3" r="5.85" fill="#f09e3a"/>
<circle cx="1230.2" cy="472.3" r="5.85" fill="#f09e3a"/>
<circle cx="1220.8" cy="407.5" r="5.85" fill="#f09e3a"/>
<circle cx="1245.4" cy="487.6" r="5.85" fill="#f09e3a"/>
<circle cx="1237.0" cy="494.3" r="5.85" fill="#f09e3a"/>
<circle cx="1249.7" cy="496.5" r="5.85" fill="#f09e3a"/>
<circle cx="1257.3" cy="502.0" r="5.85" fill="#f09e3a"/>
<circle cx="1252.2" cy="524.0" r="5.85" fill="#f09e3a"/>
<circle cx="1282.8" cy="541.0" r="5.85" fill="#f09e3a"/>
<circle cx="1287.8" cy="536.7" r="5.85" fill="#f09e3a"/>
<circle cx="1303.1" cy="546.1" r="5.85" fill="#f09e3a"/>
<circle cx="1298.9" cy="551.2" r="5.85" fill="#f09e3a"/>
<circle cx="1286.5" cy="557.9" r="5.85" fill="#f09e3a"/>
<circle cx="1320.1" cy="532.2" r="5.85" fill="#f09e3a"/>
<circle cx="1318.0" cy="550.3" r="5.85" fill="#f09e3a"/>
<circle cx="1326.5" cy="554.5" r="5.85" fill="#f09e3a"/>
<circle cx="1299.4" cy="574.1" r="5.85" fill="#f09e3a"/>
<circle cx="1294.6" cy="581.3" r="5.85" fill="#f09e3a"/>
<circle cx="1297.2" cy="585.1" r="5.85" fill="#f09e3a"/>
<circle cx="1291.2" cy="594.4" r="5.85" fill="#f09e3a"/>
<circle cx="1286.5" cy="606.3" r="5.85" fill="#f09e3a"/>
<circle cx="1239.5" cy="579.1" r="5.85" fill="#f09e3a"/>
<circle cx="1247.1" cy="604.6" r="5.85" fill="#f09e3a"/>
<circle cx="1254.8" cy="608.5" r="5.85" fill="#f09e3a"/>
<circle cx="1320.1" cy="592.2" r="5.85" fill="#f09e3a"/>
<circle cx="1331.6" cy="592.2" r="5.85" fill="#f09e3a"/>
<circle cx="1343.8" cy="572.4" r="5.85" fill="#f09e3a"/>
<circle cx="1354.0" cy="586.8" r="5.85" fill="#f09e3a"/>
<circle cx="1359.1" cy="603.7" r="5.85" fill="#f09e3a"/>
<circle cx="1371.8" cy="605.8" r="5.85" fill="#f09e3a"/>
<circle cx="1382.0" cy="602.0" r="5.85" fill="#f09e3a"/>
<circle cx="1400.6" cy="602.4" r="5.85" fill="#f09e3a"/>
<circle cx="1395.6" cy="612.6" r="5.85" fill="#f09e3a"/>
<circle cx="1338.7" cy="613.6" r="5.85" fill="#f09e3a"/>
<circle cx="1347.2" cy="617.3" r="5.85" fill="#f09e3a"/>
<circle cx="1313.3" cy="619.8" r="5.85" fill="#f09e3a"/>
<circle cx="1280.2" cy="628.0" r="5.85" fill="#f09e3a"/>
<circle cx="1350.6" cy="630.9" r="5.85" fill="#f09e3a"/>
<circle cx="1261.6" cy="562.2" r="5.85" fill="#f09e3a"/>
<circle cx="1223.4" cy="574.9" r="5.85" fill="#f09e3a"/>
<circle cx="1348.2" cy="640.4" r="5.85" fill="#f09e3a"/>
<circle cx="1364.0" cy="643.5" r="5.85" fill="#f09e3a"/>
<circle cx="1373.5" cy="641.9" r="5.85" fill="#f09e3a"/>
<circle cx="1378.3" cy="642.7" r="5.85" fill="#f09e3a"/>
<circle cx="1375.1" cy="651.4" r="5.85" fill="#f09e3a"/>
<circle cx="1327.6" cy="660.1" r="5.85" fill="#f09e3a"/>
<circle cx="1359.3" cy="662.0" r="5.85" fill="#f09e3a"/>
<circle cx="1400.4" cy="640.4" r="5.85" fill="#f09e3a"/>
<circle cx="1409.1" cy="647.5" r="5.85" fill="#f09e3a"/>
<circle cx="1416.3" cy="649.1" r="5.85" fill="#f09e3a"/>
<circle cx="1409.9" cy="657.0" r="5.85" fill="#f09e3a"/>
<circle cx="1419.4" cy="668.9" r="5.85" fill="#f09e3a"/>
<circle cx="1435.3" cy="653.8" r="5.85" fill="#f09e3a"/>
<circle cx="1472.5" cy="661.7" r="5.85" fill="#f09e3a"/>
<circle cx="1476.4" cy="668.1" r="5.85" fill="#f09e3a"/>
<circle cx="1449.5" cy="671.2" r="5.85" fill="#f09e3a"/>
<circle cx="1454.3" cy="674.4" r="5.85" fill="#f09e3a"/>
<circle cx="1441.6" cy="677.6" r="5.85" fill="#f09e3a"/>
<circle cx="1463.8" cy="680.7" r="5.85" fill="#f09e3a"/>
<circle cx="1470.1" cy="680.7" r="5.85" fill="#f09e3a"/>
<circle cx="1480.4" cy="680.7" r="5.85" fill="#f09e3a"/>
<circle cx="1379.9" cy="608.0" r="5.85" fill="#f09e3a"/>
<circle cx="1390.0" cy="615.7" r="5.85" fill="#f09e3a"/>
<circle cx="1458.7" cy="670.8" r="5.85" fill="#f09e3a"/>
<circle cx="1025.2" cy="210.6" r="5.85" fill="#8b3bf3"/>
<circle cx="1025.2" cy="223.5" r="5.85" fill="#8b3bf3"/>
<circle cx="1026.0" cy="229.8" r="5.85" fill="#8b3bf3"/>
<circle cx="1025.5" cy="249.3" r="5.85" fill="#8b3bf3"/>
<circle cx="1025.2" cy="255.2" r="5.85" fill="#8b3bf3"/>
<circle cx="1025.5" cy="262.8" r="5.85" fill="#8b3bf3"/>
<circle cx="1025.5" cy="268.8" r="5.85" fill="#8b3bf3"/>
<circle cx="1025.2" cy="274.7" r="5.85" fill="#8b3bf3"/>
<circle cx="1025.5" cy="280.7" r="5.85" fill="#8b3bf3"/>
<circle cx="1025.5" cy="325.6" r="5.85" fill="#8b3bf3"/>
<circle cx="1026.0" cy="339.2" r="5.85" fill="#8b3bf3"/>
<circle cx="1025.5" cy="365.4" r="5.85" fill="#8b3bf3"/>
<circle cx="1025.5" cy="383.8" r="5.85" fill="#8b3bf3"/>
<circle cx="1025.5" cy="393.9" r="5.85" fill="#8b3bf3"/>
<circle cx="1025.5" cy="407.5" r="5.85" fill="#8b3bf3"/>
<circle cx="1025.5" cy="414.6" r="5.85" fill="#8b3bf3"/>
<circle cx="1137.1" cy="357.8" r="5.85" fill="#8b3bf3"/>
<circle cx="1194.8" cy="351.0" r="5.85" fill="#8b3bf3"/>
<circle cx="1171.9" cy="365.1" r="5.85" fill="#8b3bf3"/>
<circle cx="1178.2" cy="367.1" r="5.85" fill="#8b3bf3"/>
<circle cx="1133.7" cy="378.7" r="5.85" fill="#8b3bf3"/>
<circle cx="1145.6" cy="379.9" r="5.85" fill="#8b3bf3"/>
<circle cx="1148.2" cy="386.6" r="5.85" fill="#8b3bf3"/>
<circle cx="1177.5" cy="390.0" r="5.85" fill="#8b3bf3"/>
<circle cx="1140.2" cy="396.8" r="5.85" fill="#8b3bf3"/>
<circle cx="1143.9" cy="406.2" r="5.85" fill="#8b3bf3"/>
<circle cx="1156.1" cy="408.7" r="5.85" fill="#8b3bf3"/>
<circle cx="1173.6" cy="415.5" r="5.85" fill="#8b3bf3"/>
<circle cx="1172.7" cy="424.0" r="5.85" fill="#8b3bf3"/>
<circle cx="1189.2" cy="423.5" r="5.85" fill="#8b3bf3"/>
<circle cx="1201.1" cy="429.6" r="5.85" fill="#8b3bf3"/>
<circle cx="1186.3" cy="434.6" r="5.85" fill="#8b3bf3"/>
<circle cx="1195.6" cy="439.2" r="5.85" fill="#8b3bf3"/>
<circle cx="1206.7" cy="443.8" r="5.85" fill="#8b3bf3"/>
<circle cx="1220.2" cy="451.1" r="5.85" fill="#8b3bf3"/>
<circle cx="1233.8" cy="430.7" r="5.85" fill="#8b3bf3"/>
<circle cx="1106.6" cy="432.4" r="5.85" fill="#8b3bf3"/>
<circle cx="1128.6" cy="425.7" r="5.85" fill="#8b3bf3"/>
<circle cx="1153.2" cy="429.1" r="5.85" fill="#8b3bf3"/>
<circle cx="1159.2" cy="437.0" r="5.85" fill="#8b3bf3"/>
<circle cx="1173.6" cy="451.1" r="5.85" fill="#8b3bf3"/>
<circle cx="1159.2" cy="454.0" r="5.85" fill="#8b3bf3"/>
<circle cx="1184.6" cy="443.5" r="5.85" fill="#8b3bf3"/>
<circle cx="1191.4" cy="445.2" r="5.85" fill="#8b3bf3"/>
<circle cx="1138.8" cy="461.3" r="5.85" fill="#8b3bf3"/>
<circle cx="1152.4" cy="461.3" r="5.85" fill="#8b3bf3"/>
<circle cx="1138.0" cy="474.8" r="5.85" fill="#8b3bf3"/>
<circle cx="1166.0" cy="469.8" r="5.85" fill="#8b3bf3"/>
<circle cx="1177.0" cy="468.9" r="5.85" fill="#8b3bf3"/>
<circle cx="1188.0" cy="470.6" r="5.85" fill="#8b3bf3"/>
<circle cx="1199.0" cy="466.4" r="5.85" fill="#8b3bf3"/>
<circle cx="1210.1" cy="463.0" r="5.85" fill="#8b3bf3"/>
<circle cx="1205.0" cy="468.1" r="5.85" fill="#8b3bf3"/>
<circle cx="1194.8" cy="475.7" r="5.85" fill="#8b3bf3"/>
<circle cx="1207.5" cy="482.1" r="5.85" fill="#8b3bf3"/>
<circle cx="1221.1" cy="483.3" r="5.85" fill="#8b3bf3"/>
<circle cx="1232.1" cy="479.1" r="5.85" fill="#8b3bf3"/>
<circle cx="1174.4" cy="482.5" r="5.85" fill="#8b3bf3"/>
<circle cx="1098.1" cy="466.9" r="5.85" fill="#8b3bf3"/>
<circle cx="1194.8" cy="485.9" r="5.85" fill="#8b3bf3"/>
<circle cx="1025.5" cy="532.5" r="5.85" fill="#8b3bf3"/>
<circle cx="1025.5" cy="628.3" r="5.85" fill="#8b3bf3"/>
<circle cx="1149.0" cy="490.1" r="5.85" fill="#8b3bf3"/>
<circle cx="1161.7" cy="505.4" r="5.85" fill="#8b3bf3"/>
<circle cx="1174.4" cy="497.7" r="5.85" fill="#8b3bf3"/>
<circle cx="1196.5" cy="499.4" r="5.85" fill="#8b3bf3"/>
<circle cx="1199.9" cy="506.2" r="5.85" fill="#8b3bf3"/>
<circle cx="1208.9" cy="503.7" r="5.85" fill="#8b3bf3"/>
<circle cx="1216.0" cy="510.1" r="5.85" fill="#8b3bf3"/>
<circle cx="1220.2" cy="491.8" r="5.85" fill="#8b3bf3"/>
<circle cx="1210.1" cy="488.4" r="5.85" fill="#8b3bf3"/>
<circle cx="1227.9" cy="506.2" r="5.85" fill="#8b3bf3"/>
<circle cx="1226.2" cy="513.8" r="5.85" fill="#8b3bf3"/>
<circle cx="1233.8" cy="517.2" r="5.85" fill="#8b3bf3"/>
<circle cx="1197.3" cy="527.4" r="5.85" fill="#8b3bf3"/>
<circle cx="1213.5" cy="533.3" r="5.85" fill="#8b3bf3"/>
<circle cx="1209.2" cy="544.4" r="5.85" fill="#8b3bf3"/>
<circle cx="1227.0" cy="526.6" r="5.85" fill="#8b3bf3"/>
<circle cx="1231.3" cy="537.6" r="5.85" fill="#8b3bf3"/>
<circle cx="1224.5" cy="541.8" r="5.85" fill="#8b3bf3"/>
<circle cx="1221.9" cy="552.0" r="5.85" fill="#8b3bf3"/>
<circle cx="1233.0" cy="549.5" r="5.85" fill="#8b3bf3"/>
<circle cx="1228.7" cy="569.8" r="5.85" fill="#8b3bf3"/>
<circle cx="1231.3" cy="581.7" r="5.85" fill="#8b3bf3"/>
<circle cx="1127.8" cy="552.8" r="5.85" fill="#8b3bf3"/>
<circle cx="1174.1" cy="553.2" r="5.85" fill="#8b3bf3"/>
<circle cx="1198.5" cy="583.4" r="5.85" fill="#8b3bf3"/>
<circle cx="1222.5" cy="451.1" r="5.85" fill="#8b3bf3"/>
<circle cx="1228.5" cy="460.4" r="5.85" fill="#8b3bf3"/>
<circle cx="1236.1" cy="464.7" r="5.85" fill="#8b3bf3"/>
<circle cx="1238.7" cy="474.8" r="5.85" fill="#8b3bf3"/>
<circle cx="1247.1" cy="472.3" r="5.85" fill="#8b3bf3"/>
<circle cx="1242.1" cy="481.6" r="5.85" fill="#8b3bf3"/>
<circle cx="1226.8" cy="485.9" r="5.85" fill="#8b3bf3"/>
<circle cx="1220.0" cy="461.3" r="5.85" fill="#8b3bf3"/>
<circle cx="1299.4" cy="479.9" r="5.85" fill="#8b3bf3"/>
<circle cx="1222.5" cy="491.8" r="5.85" fill="#8b3bf3"/>
<circle cx="1266.1" cy="498.9" r="5.85" fill="#8b3bf3"/>
<circle cx="1290.4" cy="498.2" r="5.85" fill="#8b3bf3"/>
<circle cx="1291.8" cy="507.4" r="5.85" fill="#8b3bf3"/>
<circle cx="1235.3" cy="505.4" r="5.85" fill="#8b3bf3"/>
<circle cx="1241.2" cy="513.0" r="5.85" fill="#8b3bf3"/>
<circle cx="1256.5" cy="516.4" r="5.85" fill="#8b3bf3"/>
<circle cx="1240.0" cy="524.0" r="5.85" fill="#8b3bf3"/>
<circle cx="1247.1" cy="529.4" r="5.85" fill="#8b3bf3"/>
<circle cx="1275.1" cy="521.5" r="5.85" fill="#8b3bf3"/>
<circle cx="1326.9" cy="524.4" r="5.85" fill="#8b3bf3"/>
<circle cx="1329.9" cy="538.4" r="5.85" fill="#8b3bf3"/>
<circle cx="1303.1" cy="539.3" r="5.85" fill="#8b3bf3"/>
<circle cx="1245.4" cy="540.1" r="5.85" fill="#8b3bf3"/>
<circle cx="1259.0" cy="539.3" r="5.85" fill="#8b3bf3"/>
<circle cx="1253.9" cy="544.7" r="5.85" fill="#8b3bf3"/>
<circle cx="1236.1" cy="549.1" r="5.85" fill="#8b3bf3"/>
<circle cx="1235.3" cy="555.4" r="5.85" fill="#8b3bf3"/>
<circle cx="1243.7" cy="560.5" r="5.85" fill="#8b3bf3"/>
<circle cx="1261.6" cy="555.4" r="5.85" fill="#8b3bf3"/>
<circle cx="1263.3" cy="561.3" r="5.85" fill="#8b3bf3"/>
<circle cx="1271.7" cy="541.8" r="5.85" fill="#8b3bf3"/>
<circle cx="1275.1" cy="550.3" r="5.85" fill="#8b3bf3"/>
<circle cx="1281.1" cy="566.8" r="5.85" fill="#8b3bf3"/>
<circle cx="1276.8" cy="574.9" r="5.85" fill="#8b3bf3"/>
<circle cx="1285.3" cy="582.0" r="5.85" fill="#8b3bf3"/>
<circle cx="1292.9" cy="565.1" r="5.85" fill="#8b3bf3"/>
<circle cx="1300.6" cy="559.6" r="5.85" fill="#8b3bf3"/>
<circle cx="1304.0" cy="563.4" r="5.85" fill="#8b3bf3"/>
<circle cx="1313.3" cy="572.4" r="5.85" fill="#8b3bf3"/>
<circle cx="1322.6" cy="569.0" r="5.85" fill="#8b3bf3"/>
<circle cx="1332.8" cy="566.1" r="5.85" fill="#8b3bf3"/>
<circle cx="1328.0" cy="576.6" r="5.85" fill="#8b3bf3"/>
<circle cx="1336.2" cy="578.3" r="5.85" fill="#8b3bf3"/>
<circle cx="1241.7" cy="569.8" r="5.85" fill="#8b3bf3"/>
<circle cx="1257.3" cy="581.3" r="5.85" fill="#8b3bf3"/>
<circle cx="1348.9" cy="572.4" r="5.85" fill="#8b3bf3"/>
<circle cx="1354.0" cy="574.9" r="5.85" fill="#8b3bf3"/>
<circle cx="1364.2" cy="581.7" r="5.85" fill="#8b3bf3"/>
<circle cx="1369.3" cy="587.6" r="5.85" fill="#8b3bf3"/>
<circle cx="1342.1" cy="590.2" r="5.85" fill="#8b3bf3"/>
<circle cx="1350.6" cy="592.7" r="5.85" fill="#8b3bf3"/>
<circle cx="1363.8" cy="596.1" r="5.85" fill="#8b3bf3"/>
<circle cx="1351.5" cy="602.0" r="5.85" fill="#8b3bf3"/>
<circle cx="1379.4" cy="590.2" r="5.85" fill="#8b3bf3"/>
<circle cx="1392.2" cy="593.6" r="5.85" fill="#8b3bf3"/>
<circle cx="1387.9" cy="608.8" r="5.85" fill="#8b3bf3"/>
<circle cx="1362.5" cy="618.2" r="5.85" fill="#8b3bf3"/>
<circle cx="1354.8" cy="625.8" r="5.85" fill="#8b3bf3"/>
<circle cx="1317.5" cy="621.5" r="5.85" fill="#8b3bf3"/>
<circle cx="1309.9" cy="629.2" r="5.85" fill="#8b3bf3"/>
<circle cx="1335.3" cy="630.5" r="5.85" fill="#8b3bf3"/>
<circle cx="1401.5" cy="628.3" r="5.85" fill="#8b3bf3"/>
<circle cx="1415.1" cy="624.4" r="5.85" fill="#8b3bf3"/>
<circle cx="1433.7" cy="632.6" r="5.85" fill="#8b3bf3"/>
<circle cx="1316.6" cy="634.0" r="5.85" fill="#8b3bf3"/>
<circle cx="1318.1" cy="636.4" r="5.85" fill="#8b3bf3"/>
<circle cx="1355.3" cy="646.7" r="5.85" fill="#8b3bf3"/>
<circle cx="1411.5" cy="637.2" r="5.85" fill="#8b3bf3"/>
<circle cx="1398.9" cy="645.9" r="5.85" fill="#8b3bf3"/>
<circle cx="1425.0" cy="648.3" r="5.85" fill="#8b3bf3"/>
<circle cx="1430.5" cy="634.8" r="5.85" fill="#8b3bf3"/>
<circle cx="1436.8" cy="634.5" r="5.85" fill="#8b3bf3"/>
<circle cx="1411.5" cy="669.6" r="5.85" fill="#8b3bf3"/>
<circle cx="1418.6" cy="681.5" r="5.85" fill="#8b3bf3"/>
<circle cx="1437.6" cy="673.6" r="5.85" fill="#8b3bf3"/>
<circle cx="1447.1" cy="676.0" r="5.85" fill="#8b3bf3"/>
<circle cx="1450.3" cy="662.5" r="5.85" fill="#8b3bf3"/>
<circle cx="1457.4" cy="657.0" r="5.85" fill="#8b3bf3"/>
<circle cx="1459.8" cy="663.3" r="5.85" fill="#8b3bf3"/>
<circle cx="1462.2" cy="676.8" r="5.85" fill="#8b3bf3"/>
<circle cx="1470.1" cy="671.2" r="5.85" fill="#8b3bf3"/>
<circle cx="1480.4" cy="673.6" r="5.85" fill="#8b3bf3"/>
<circle cx="1466.1" cy="679.1" r="5.85" fill="#8b3bf3"/>
<circle cx="1363.2" cy="600.0" r="5.85" fill="#8b3bf3"/>
<circle cx="1377.3" cy="593.6" r="5.85" fill="#8b3bf3"/>
<circle cx="1418.9" cy="679.3" r="5.85" fill="#8b3bf3"/>
<circle cx="1025.5" cy="239.1" r="5.85" fill="#6fe3d8"/>
<circle cx="1025.2" cy="234.0" r="5.85" fill="#6fe3d8"/>
<circle cx="1025.5" cy="287.4" r="5.85" fill="#6fe3d8"/>
<circle cx="1025.5" cy="295.9" r="5.85" fill="#6fe3d8"/>
<circle cx="1025.5" cy="301.9" r="5.85" fill="#6fe3d8"/>
<circle cx="1025.5" cy="332.4" r="5.85" fill="#6fe3d8"/>
<circle cx="1025.5" cy="344.3" r="5.85" fill="#6fe3d8"/>
<circle cx="1184.6" cy="208.2" r="5.85" fill="#6fe3d8"/>
<circle cx="1233.8" cy="271.7" r="5.85" fill="#6fe3d8"/>
<circle cx="1231.3" cy="299.7" r="5.85" fill="#6fe3d8"/>
<circle cx="1201.6" cy="310.3" r="5.85" fill="#6fe3d8"/>
<circle cx="1213.8" cy="314.6" r="5.85" fill="#6fe3d8"/>
<circle cx="1210.6" cy="323.4" r="5.85" fill="#6fe3d8"/>
<circle cx="1233.8" cy="322.2" r="5.85" fill="#6fe3d8"/>
<circle cx="1233.8" cy="329.0" r="5.85" fill="#6fe3d8"/>
<circle cx="1216.0" cy="338.8" r="5.85" fill="#6fe3d8"/>
<circle cx="1210.1" cy="343.4" r="5.85" fill="#6fe3d8"/>
<circle cx="1228.4" cy="343.4" r="5.85" fill="#6fe3d8"/>
<circle cx="1110.3" cy="316.3" r="5.85" fill="#6fe3d8"/>
<circle cx="1025.5" cy="346.8" r="5.85" fill="#6fe3d8"/>
<circle cx="1025.5" cy="421.4" r="5.85" fill="#6fe3d8"/>
<circle cx="1025.5" cy="428.2" r="5.85" fill="#6fe3d8"/>
<circle cx="1025.5" cy="435.0" r="5.85" fill="#6fe3d8"/>
<circle cx="1025.5" cy="441.8" r="5.85" fill="#6fe3d8"/>
<circle cx="1025.5" cy="448.6" r="5.85" fill="#6fe3d8"/>
<circle cx="1025.5" cy="458.7" r="5.85" fill="#6fe3d8"/>
<circle cx="1025.5" cy="468.9" r="5.85" fill="#6fe3d8"/>
<circle cx="1025.5" cy="475.7" r="5.85" fill="#6fe3d8"/>
<circle cx="1025.5" cy="484.2" r="5.85" fill="#6fe3d8"/>
<circle cx="1112.5" cy="355.3" r="5.85" fill="#6fe3d8"/>
<circle cx="1120.5" cy="355.6" r="5.85" fill="#6fe3d8"/>
<circle cx="1112.5" cy="378.2" r="5.85" fill="#6fe3d8"/>
<circle cx="1157.1" cy="381.2" r="5.85" fill="#6fe3d8"/>
<circle cx="1190.6" cy="354.9" r="5.85" fill="#6fe3d8"/>
<circle cx="1200.7" cy="362.6" r="5.85" fill="#6fe3d8"/>
<circle cx="1186.0" cy="373.1" r="5.85" fill="#6fe3d8"/>
<circle cx="1178.7" cy="376.0" r="5.85" fill="#6fe3d8"/>
<circle cx="1197.9" cy="379.0" r="5.85" fill="#6fe3d8"/>
<circle cx="1209.2" cy="390.0" r="5.85" fill="#6fe3d8"/>
<circle cx="1212.3" cy="400.2" r="5.85" fill="#6fe3d8"/>
<circle cx="1169.7" cy="399.0" r="5.85" fill="#6fe3d8"/>
<circle cx="1187.2" cy="398.5" r="5.85" fill="#6fe3d8"/>
<circle cx="1209.2" cy="419.7" r="5.85" fill="#6fe3d8"/>
<circle cx="1220.8" cy="428.5" r="5.85" fill="#6fe3d8"/>
<circle cx="1227.9" cy="441.8" r="5.85" fill="#6fe3d8"/>
<circle cx="1233.8" cy="457.0" r="5.85" fill="#6fe3d8"/>
<circle cx="1208.4" cy="346.8" r="5.85" fill="#6fe3d8"/>
<circle cx="1216.9" cy="341.7" r="5.85" fill="#6fe3d8"/>
<circle cx="1224.0" cy="356.1" r="5.85" fill="#6fe3d8"/>
<circle cx="1227.0" cy="366.3" r="5.85" fill="#6fe3d8"/>
<circle cx="1233.0" cy="359.5" r="5.85" fill="#6fe3d8"/>
<circle cx="1232.1" cy="375.6" r="5.85" fill="#6fe3d8"/>
<circle cx="1136.3" cy="406.2" r="5.85" fill="#6fe3d8"/>
<circle cx="1109.1" cy="415.5" r="5.85" fill="#6fe3d8"/>
<circle cx="1118.1" cy="422.8" r="5.85" fill="#6fe3d8"/>
<circle cx="1112.0" cy="429.6" r="5.85" fill="#6fe3d8"/>
<circle cx="1121.5" cy="435.3" r="5.85" fill="#6fe3d8"/>
<circle cx="1130.0" cy="438.4" r="5.85" fill="#6fe3d8"/>
<circle cx="1138.0" cy="424.5" r="5.85" fill="#6fe3d8"/>
<circle cx="1145.3" cy="424.8" r="5.85" fill="#6fe3d8"/>
<circle cx="1147.3" cy="433.6" r="5.85" fill="#6fe3d8"/>
<circle cx="1144.8" cy="442.6" r="5.85" fill="#6fe3d8"/>
<circle cx="1164.3" cy="429.6" r="5.85" fill="#6fe3d8"/>
<circle cx="1113.7" cy="446.9" r="5.85" fill="#6fe3d8"/>
<circle cx="1120.2" cy="465.2" r="5.85" fill="#6fe3d8"/>
<circle cx="1115.1" cy="470.3" r="5.85" fill="#6fe3d8"/>
<circle cx="1143.1" cy="462.5" r="5.85" fill="#6fe3d8"/>
<circle cx="1158.8" cy="467.6" r="5.85" fill="#6fe3d8"/>
<circle cx="1151.5" cy="474.0" r="5.85" fill="#6fe3d8"/>
<circle cx="1179.9" cy="455.0" r="5.85" fill="#6fe3d8"/>
<circle cx="1191.7" cy="457.0" r="5.85" fill="#6fe3d8"/>
<circle cx="1154.1" cy="485.9" r="5.85" fill="#6fe3d8"/>
<circle cx="1186.3" cy="485.0" r="5.85" fill="#6fe3d8"/>
<circle cx="1025.5" cy="486.7" r="5.85" fill="#6fe3d8"/>
<circle cx="1025.5" cy="493.5" r="5.85" fill="#6fe3d8"/>
<circle cx="1025.5" cy="505.4" r="5.85" fill="#6fe3d8"/>
<circle cx="1025.5" cy="512.1" r="5.85" fill="#6fe3d8"/>
<circle cx="1025.5" cy="526.6" r="5.85" fill="#6fe3d8"/>
<circle cx="1083.2" cy="502.5" r="5.85" fill="#6fe3d8"/>
<circle cx="1121.0" cy="503.3" r="5.85" fill="#6fe3d8"/>
<circle cx="1130.3" cy="500.6" r="5.85" fill="#6fe3d8"/>
<circle cx="1130.0" cy="514.7" r="5.85" fill="#6fe3d8"/>
<circle cx="1147.3" cy="509.9" r="5.85" fill="#6fe3d8"/>
<circle cx="1153.8" cy="488.4" r="5.85" fill="#6fe3d8"/>
<circle cx="1177.8" cy="492.6" r="5.85" fill="#6fe3d8"/>
<circle cx="1221.1" cy="609.2" r="5.85" fill="#6fe3d8"/>
<circle cx="1060.5" cy="630.5" r="5.85" fill="#6fe3d8"/>
<circle cx="1250.2" cy="241.1" r="5.85" fill="#6fe3d8"/>
<circle cx="1236.3" cy="271.7" r="5.85" fill="#6fe3d8"/>
<circle cx="1255.1" cy="275.9" r="5.85" fill="#6fe3d8"/>
<circle cx="1260.0" cy="303.6" r="5.85" fill="#6fe3d8"/>
<circle cx="1236.6" cy="322.2" r="5.85" fill="#6fe3d8"/>
<circle cx="1237.0" cy="327.6" r="5.85" fill="#6fe3d8"/>
<circle cx="1248.8" cy="333.2" r="5.85" fill="#6fe3d8"/>
<circle cx="1267.0" cy="321.4" r="5.85" fill="#6fe3d8"/>
<circle cx="1275.6" cy="323.6" r="5.85" fill="#6fe3d8"/>
<circle cx="1267.0" cy="334.1" r="5.85" fill="#6fe3d8"/>
<circle cx="1262.1" cy="337.8" r="5.85" fill="#6fe3d8"/>
<circle cx="1268.3" cy="340.9" r="5.85" fill="#6fe3d8"/>
<circle cx="1243.7" cy="342.6" r="5.85" fill="#6fe3d8"/>
<circle cx="1237.8" cy="340.9" r="5.85" fill="#6fe3d8"/>
<circle cx="1421.9" cy="338.7" r="5.85" fill="#6fe3d8"/>
<circle cx="1435.4" cy="342.2" r="5.85" fill="#6fe3d8"/>
<circle cx="1399.0" cy="344.3" r="5.85" fill="#6fe3d8"/>
<circle cx="1406.6" cy="344.9" r="5.85" fill="#6fe3d8"/>
<circle cx="1220.0" cy="339.2" r="5.85" fill="#6fe3d8"/>
<circle cx="1237.0" cy="350.2" r="5.85" fill="#6fe3d8"/>
<circle cx="1244.1" cy="357.8" r="5.85" fill="#6fe3d8"/>
<circle cx="1257.3" cy="358.3" r="5.85" fill="#6fe3d8"/>
<circle cx="1267.5" cy="343.4" r="5.85" fill="#6fe3d8"/>
<circle cx="1267.2" cy="351.0" r="5.85" fill="#6fe3d8"/>
<circle cx="1295.5" cy="353.2" r="5.85" fill="#6fe3d8"/>
<circle cx="1235.6" cy="373.1" r="5.85" fill="#6fe3d8"/>
<circle cx="1231.9" cy="378.2" r="5.85" fill="#6fe3d8"/>
<circle cx="1243.4" cy="380.7" r="5.85" fill="#6fe3d8"/>
<circle cx="1250.9" cy="374.8" r="5.85" fill="#6fe3d8"/>
<circle cx="1245.4" cy="370.5" r="5.85" fill="#6fe3d8"/>
<circle cx="1263.8" cy="370.5" r="5.85" fill="#6fe3d8"/>
<circle cx="1276.0" cy="377.7" r="5.85" fill="#6fe3d8"/>
<circle cx="1286.7" cy="377.7" r="5.85" fill="#6fe3d8"/>
<circle cx="1240.0" cy="392.2" r="5.85" fill="#6fe3d8"/>
<circle cx="1270.5" cy="392.9" r="5.85" fill="#6fe3d8"/>
<circle cx="1280.2" cy="390.5" r="5.85" fill="#6fe3d8"/>
<circle cx="1307.9" cy="375.3" r="5.85" fill="#6fe3d8"/>
<circle cx="1304.5" cy="381.6" r="5.85" fill="#6fe3d8"/>
<circle cx="1302.8" cy="388.0" r="5.85" fill="#6fe3d8"/>
<circle cx="1313.3" cy="390.0" r="5.85" fill="#6fe3d8"/>
<circle cx="1311.6" cy="397.7" r="5.85" fill="#6fe3d8"/>
<circle cx="1306.2" cy="401.9" r="5.85" fill="#6fe3d8"/>
<circle cx="1316.3" cy="411.2" r="5.85" fill="#6fe3d8"/>
<circle cx="1306.5" cy="414.6" r="5.85" fill="#6fe3d8"/>
<circle cx="1282.3" cy="402.4" r="5.85" fill="#6fe3d8"/>
<circle cx="1262.4" cy="404.8" r="5.85" fill="#6fe3d8"/>
<circle cx="1247.6" cy="402.8" r="5.85" fill="#6fe3d8"/>
<circle cx="1253.1" cy="407.8" r="5.85" fill="#6fe3d8"/>
<circle cx="1256.0" cy="416.3" r="5.85" fill="#6fe3d8"/>
<circle cx="1272.2" cy="412.4" r="5.85" fill="#6fe3d8"/>
<circle cx="1363.3" cy="372.2" r="5.85" fill="#6fe3d8"/>
<circle cx="1377.4" cy="384.6" r="5.85" fill="#6fe3d8"/>
<circle cx="1377.7" cy="392.9" r="5.85" fill="#6fe3d8"/>
<circle cx="1389.6" cy="388.0" r="5.85" fill="#6fe3d8"/>
<circle cx="1397.8" cy="392.6" r="5.85" fill="#6fe3d8"/>
<circle cx="1404.0" cy="386.1" r="5.85" fill="#6fe3d8"/>
<circle cx="1402.9" cy="374.8" r="5.85" fill="#6fe3d8"/>
<circle cx="1404.5" cy="371.9" r="5.85" fill="#6fe3d8"/>
<circle cx="1406.6" cy="348.5" r="5.85" fill="#6fe3d8"/>
<circle cx="1433.7" cy="369.7" r="5.85" fill="#6fe3d8"/>
<circle cx="1432.0" cy="375.6" r="5.85" fill="#6fe3d8"/>
<circle cx="1438.0" cy="382.4" r="5.85" fill="#6fe3d8"/>
<circle cx="1421.9" cy="389.2" r="5.85" fill="#6fe3d8"/>
<circle cx="1425.2" cy="393.4" r="5.85" fill="#6fe3d8"/>
<circle cx="1431.2" cy="400.7" r="5.85" fill="#6fe3d8"/>
<circle cx="1421.0" cy="404.1" r="5.85" fill="#6fe3d8"/>
<circle cx="1362.1" cy="405.6" r="5.85" fill="#6fe3d8"/>
<circle cx="1366.7" cy="415.5" r="5.85" fill="#6fe3d8"/>
<circle cx="1351.5" cy="416.7" r="5.85" fill="#6fe3d8"/>
<circle cx="1399.8" cy="415.8" r="5.85" fill="#6fe3d8"/>
<circle cx="1405.7" cy="415.0" r="5.85" fill="#6fe3d8"/>
<circle cx="1389.3" cy="426.2" r="5.85" fill="#6fe3d8"/>
<circle cx="1416.8" cy="429.9" r="5.85" fill="#6fe3d8"/>
<circle cx="1423.5" cy="437.0" r="5.85" fill="#6fe3d8"/>
<circle cx="1401.5" cy="439.2" r="5.85" fill="#6fe3d8"/>
<circle cx="1395.2" cy="446.0" r="5.85" fill="#6fe3d8"/>
<circle cx="1404.5" cy="448.2" r="5.85" fill="#6fe3d8"/>
<circle cx="1438.8" cy="408.7" r="5.85" fill="#6fe3d8"/>
<circle cx="1245.8" cy="426.8" r="5.85" fill="#6fe3d8"/>
<circle cx="1250.5" cy="435.0" r="5.85" fill="#6fe3d8"/>
<circle cx="1242.9" cy="438.9" r="5.85" fill="#6fe3d8"/>
<circle cx="1257.0" cy="443.8" r="5.85" fill="#6fe3d8"/>
<circle cx="1267.2" cy="446.0" r="5.85" fill="#6fe3d8"/>
<circle cx="1268.3" cy="438.4" r="5.85" fill="#6fe3d8"/>
<circle cx="1242.6" cy="452.0" r="5.85" fill="#6fe3d8"/>
<circle cx="1251.0" cy="454.8" r="5.85" fill="#6fe3d8"/>
<circle cx="1236.1" cy="456.2" r="5.85" fill="#6fe3d8"/>
<circle cx="1265.5" cy="455.0" r="5.85" fill="#6fe3d8"/>
<circle cx="1289.5" cy="451.6" r="5.85" fill="#6fe3d8"/>
<circle cx="1284.1" cy="463.3" r="5.85" fill="#6fe3d8"/>
<circle cx="1296.0" cy="464.7" r="5.85" fill="#6fe3d8"/>
<circle cx="1273.4" cy="468.6" r="5.85" fill="#6fe3d8"/>
<circle cx="1280.7" cy="478.6" r="5.85" fill="#6fe3d8"/>
<circle cx="1309.6" cy="439.1" r="5.85" fill="#6fe3d8"/>
<circle cx="1256.0" cy="485.9" r="5.85" fill="#6fe3d8"/>
<circle cx="1378.6" cy="487.2" r="5.85" fill="#6fe3d8"/>
<circle cx="1268.9" cy="510.8" r="5.85" fill="#6fe3d8"/>
<circle cx="1286.5" cy="516.4" r="5.85" fill="#6fe3d8"/>
<circle cx="1285.0" cy="530.5" r="5.85" fill="#6fe3d8"/>
<circle cx="1423.2" cy="513.5" r="5.85" fill="#6fe3d8"/>
<circle cx="1381.6" cy="533.0" r="5.85" fill="#6fe3d8"/>
<circle cx="1485.1" cy="652.2" r="5.85" fill="#6fe3d8"/>
<circle cx="1499.4" cy="604.7" r="5.85" fill="#6fe3d8"/>
<circle cx="1444.0" cy="268.7" r="5.85" fill="#6fe3d8"/>
<circle cx="1465.5" cy="289.9" r="5.85" fill="#6fe3d8"/>
<circle cx="1477.4" cy="289.5" r="5.85" fill="#6fe3d8"/>
<circle cx="1456.7" cy="317.0" r="5.85" fill="#6fe3d8"/>
<circle cx="1464.2" cy="323.8" r="5.85" fill="#6fe3d8"/>
<circle cx="1485.0" cy="323.8" r="5.85" fill="#6fe3d8"/>
<circle cx="1503.3" cy="313.1" r="5.85" fill="#6fe3d8"/>
<circle cx="1507.9" cy="322.6" r="5.85" fill="#6fe3d8"/>
<circle cx="1472.0" cy="343.0" r="5.85" fill="#6fe3d8"/>
<circle cx="1491.0" cy="336.2" r="5.85" fill="#6fe3d8"/>
<circle cx="1496.9" cy="336.5" r="5.85" fill="#6fe3d8"/>
<circle cx="1490.5" cy="344.1" r="5.85" fill="#6fe3d8"/>
<circle cx="1511.3" cy="339.9" r="5.85" fill="#6fe3d8"/>
<circle cx="1516.4" cy="343.8" r="5.85" fill="#6fe3d8"/>
<circle cx="1474.0" cy="351.8" r="5.85" fill="#6fe3d8"/>
<circle cx="1481.1" cy="351.3" r="5.85" fill="#6fe3d8"/>
<circle cx="1487.6" cy="358.6" r="5.85" fill="#6fe3d8"/>
<circle cx="1504.2" cy="355.5" r="5.85" fill="#6fe3d8"/>
<circle cx="1496.9" cy="362.8" r="5.85" fill="#6fe3d8"/>
<circle cx="1456.2" cy="361.6" r="5.85" fill="#6fe3d8"/>
<circle cx="1453.3" cy="367.0" r="5.85" fill="#6fe3d8"/>
<circle cx="1471.5" cy="365.3" r="5.85" fill="#6fe3d8"/>
<circle cx="1483.3" cy="365.3" r="5.85" fill="#6fe3d8"/>
<circle cx="1474.8" cy="374.7" r="5.85" fill="#6fe3d8"/>
<circle cx="1468.9" cy="376.9" r="5.85" fill="#6fe3d8"/>
<circle cx="1446.0" cy="377.2" r="5.85" fill="#6fe3d8"/>
<circle cx="1458.7" cy="381.5" r="5.85" fill="#6fe3d8"/>
<circle cx="1429.9" cy="367.9" r="5.85" fill="#6fe3d8"/>
<circle cx="1435.0" cy="375.5" r="5.85" fill="#6fe3d8"/>
<circle cx="1440.9" cy="383.2" r="5.85" fill="#6fe3d8"/>
<circle cx="1430.7" cy="398.4" r="5.85" fill="#6fe3d8"/>
<circle cx="1467.2" cy="391.6" r="5.85" fill="#6fe3d8"/>
<circle cx="1480.4" cy="388.2" r="5.85" fill="#6fe3d8"/>
<circle cx="1492.3" cy="388.2" r="5.85" fill="#6fe3d8"/>
<circle cx="1510.5" cy="390.8" r="5.85" fill="#6fe3d8"/>
<circle cx="1474.0" cy="385.7" r="5.85" fill="#6fe3d8"/>
<circle cx="1524.0" cy="399.9" r="5.85" fill="#6fe3d8"/>
<circle cx="1477.4" cy="399.9" r="5.85" fill="#6fe3d8"/>
<circle cx="1421.4" cy="399.9" r="5.85" fill="#6fe3d8"/>
<circle cx="1362.1" cy="399.9" r="5.85" fill="#6fe3d8"/>
<circle cx="1443.8" cy="409.0" r="5.85" fill="#6fe3d8"/>
<circle cx="1452.3" cy="415.8" r="5.85" fill="#6fe3d8"/>
<circle cx="1455.9" cy="427.7" r="5.85" fill="#6fe3d8"/>
<circle cx="1463.0" cy="407.8" r="5.85" fill="#6fe3d8"/>
<circle cx="1473.2" cy="407.8" r="5.85" fill="#6fe3d8"/>
<circle cx="1470.3" cy="413.4" r="5.85" fill="#6fe3d8"/>
<circle cx="1478.2" cy="411.2" r="5.85" fill="#6fe3d8"/>
<circle cx="1477.4" cy="403.6" r="5.85" fill="#6fe3d8"/>
<circle cx="1478.8" cy="424.4" r="5.85" fill="#6fe3d8"/>
<circle cx="1484.2" cy="426.0" r="5.85" fill="#6fe3d8"/>
<circle cx="1476.5" cy="428.7" r="5.85" fill="#6fe3d8"/>
<circle cx="1494.0" cy="414.6" r="5.85" fill="#6fe3d8"/>
<circle cx="1498.6" cy="416.3" r="5.85" fill="#6fe3d8"/>
<circle cx="1498.1" cy="435.8" r="5.85" fill="#6fe3d8"/>
<circle cx="1510.5" cy="406.6" r="5.85" fill="#6fe3d8"/>
<circle cx="1524.5" cy="404.9" r="5.85" fill="#6fe3d8"/>
<circle cx="1467.2" cy="447.2" r="5.85" fill="#6fe3d8"/>
<circle cx="1501.5" cy="455.6" r="5.85" fill="#6fe3d8"/>
<circle cx="1497.4" cy="458.4" r="5.85" fill="#6fe3d8"/>
<circle cx="1497.4" cy="508.7" r="5.85" fill="#6fe3d8"/>
<circle cx="1505.4" cy="515.5" r="5.85" fill="#6fe3d8"/>
<circle cx="1492.3" cy="390.8" r="5.85" fill="#6fe3d8"/>
<circle cx="1479.9" cy="390.8" r="5.85" fill="#6fe3d8"/>
<circle cx="1482.5" cy="552.6" r="5.85" fill="#6fe3d8"/>
<circle cx="1476.5" cy="592.8" r="5.85" fill="#6fe3d8"/>
<circle cx="1503.3" cy="605.0" r="5.85" fill="#6fe3d8"/>
</g>
<path d="M1025.0,121.1 V713.3 H1589.7" fill="none" stroke="#3b3b3b" stroke-width="1.9"/>
<text transform="translate(1009.0,722.9) scale(1,1.065)" text-anchor="end" class="tk">0</text>
<text transform="translate(1009.0,624.2) scale(1,1.065)" text-anchor="end" class="tk">500</text>
<text transform="translate(1009.0,525.5) scale(1,1.065)" text-anchor="end" class="tk">1000</text>
<text transform="translate(1009.0,426.8) scale(1,1.065)" text-anchor="end" class="tk">1500</text>
<text transform="translate(1009.0,328.1) scale(1,1.065)" text-anchor="end" class="tk">2000</text>
<text transform="translate(1009.0,229.4) scale(1,1.065)" text-anchor="end" class="tk">2500</text>
<text transform="translate(1009.0,130.7) scale(1,1.065)" text-anchor="end" class="tk">3000</text>
<text transform="translate(1025.0,748.0) scale(1,1.065)" text-anchor="middle" class="tk">0.0</text>
<text transform="translate(1137.9,748.0) scale(1,1.065)" text-anchor="middle" class="tk">0.2</text>
<text transform="translate(1250.9,748.0) scale(1,1.065)" text-anchor="middle" class="tk">0.4</text>
<text transform="translate(1363.8,748.0) scale(1,1.065)" text-anchor="middle" class="tk">0.6</text>
<text transform="translate(1476.8,748.0) scale(1,1.065)" text-anchor="middle" class="tk">0.8</text>
<text transform="translate(1589.7,748.0) scale(1,1.065)" text-anchor="middle" class="tk">1.0</text>
<text transform="translate(1307.3,777.9) scale(1,1.035)" text-anchor="middle" class="lb">Percentage of Time Between Floors</text>
<text transform="translate(941.1,418.0) scale(1.035,1) rotate(-90)" text-anchor="middle" class="lb">Average View Volume</text>
<rect x="1626.0" y="138.7" width="37.8" height="12.8" fill="#40e0d0" fill-opacity="0.25" stroke="#6fe3d8" stroke-width="1.6"/>
<text transform="translate(1679.0,151.9) scale(1,1.000)" class="lg">Glass</text>
<rect x="1626.0" y="164.9" width="37.8" height="12.8" fill="#8a2be2" fill-opacity="0.25" stroke="#8a36ee" stroke-width="1.6"/>
<text transform="translate(1679.0,178.1) scale(1,1.000)" class="lg">Átria</text>
<rect x="1626.0" y="191.2" width="37.8" height="12.8" fill="#f39c12" fill-opacity="0.25" stroke="#ef9f3a" stroke-width="1.6"/>
<text transform="translate(1679.0,204.4) scale(1,1.000)" class="lg">Base-case</text>
</svg>

<div class="cap" style="left:3.5px;top:812.1px;">
<span class="bs">(a)</span> <span>The</span> <span>relationship</span> <span>between</span> <i>Average</i> <i>View</i> <i>Volume</i> <span>and</span> <i>Total</i> <i>Distance</i>.
</div>
<div class="cap" style="left:911px;top:812.1px;">
<span class="bs">(b)</span> <span>The</span> <span>relationship</span> <span>between</span> <i>Average</i> <i>View</i> <i>Volume</i> <span>and</span> <i>%</i> <i>Between-Floor</i> <i>Movement</i>.
</div>
</body></html>
